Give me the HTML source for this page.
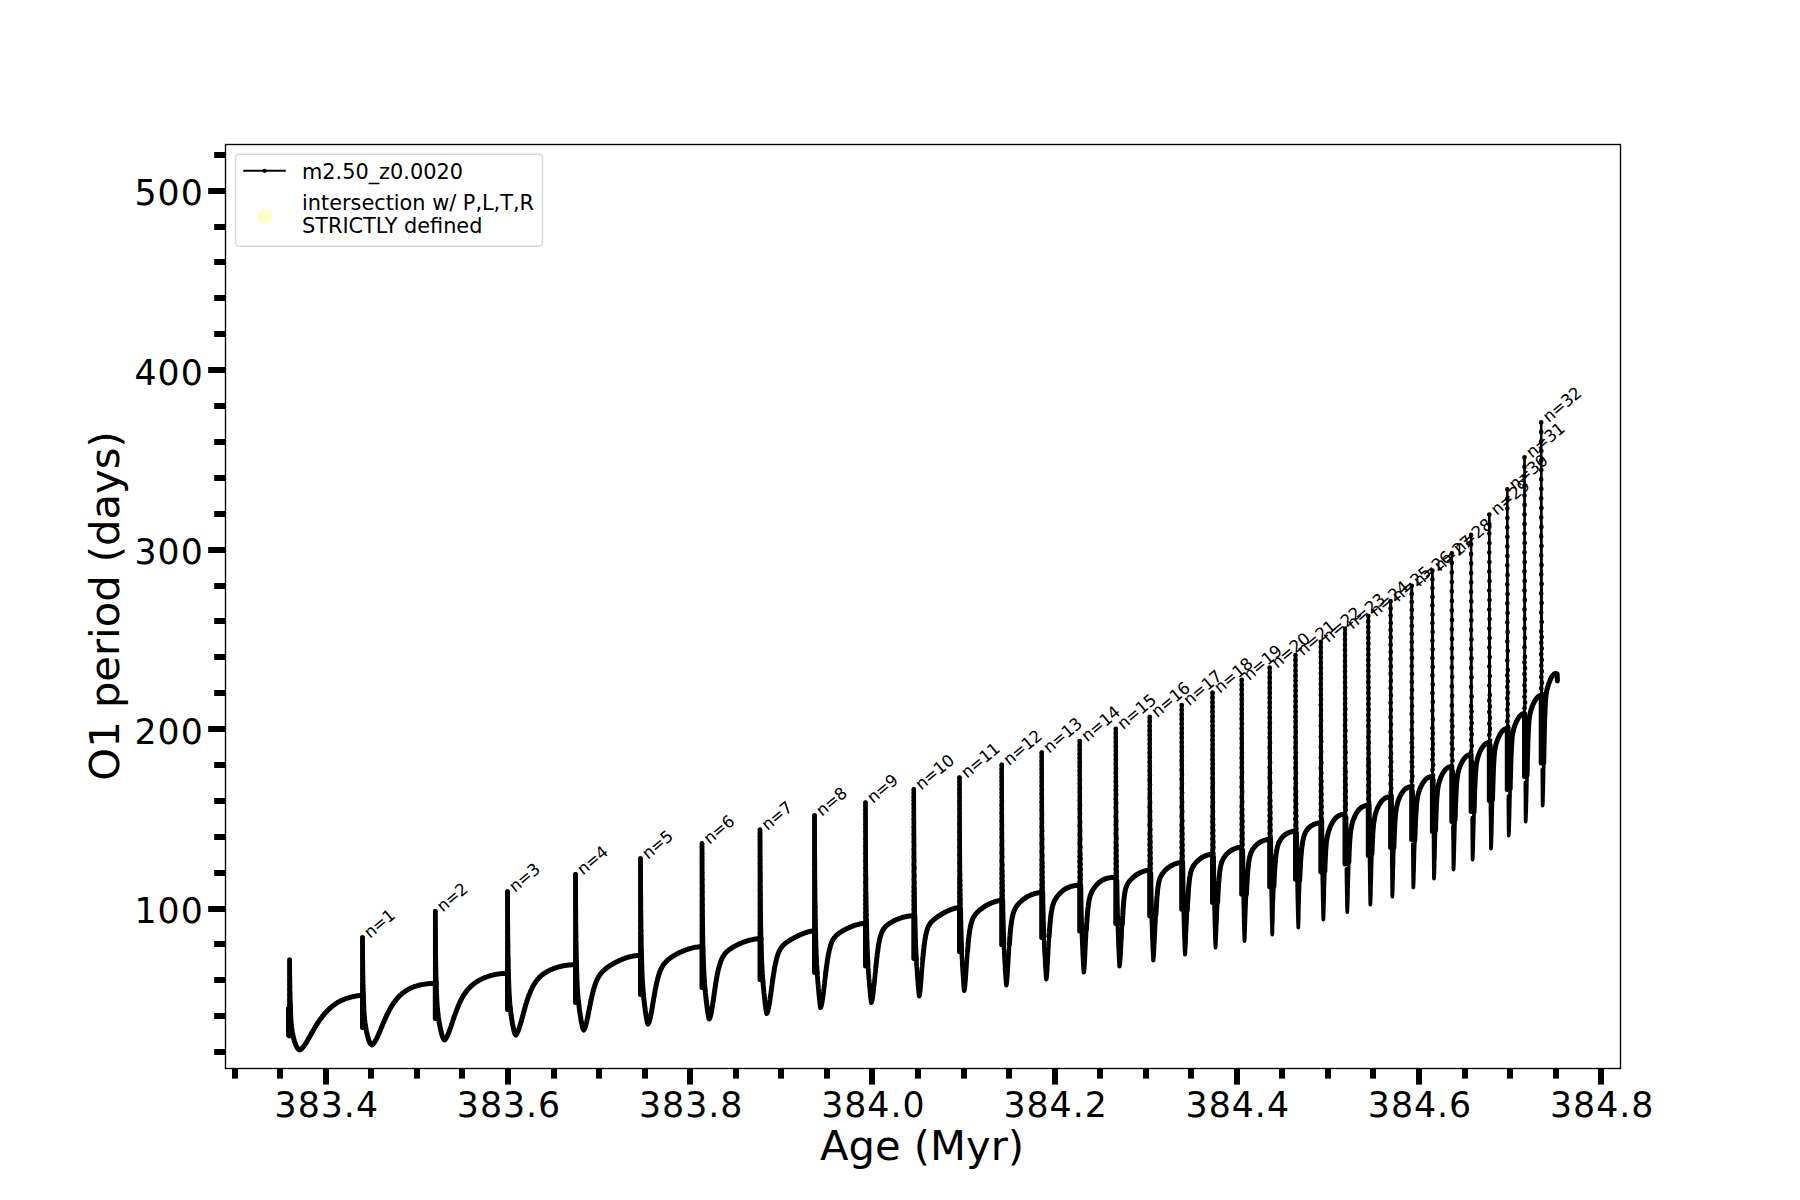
<!DOCTYPE html>
<html><head><meta charset="utf-8"><title>O1 period vs Age</title>
<style>
html,body{margin:0;padding:0;background:#fff}
body{width:1800px;height:1200px;overflow:hidden}
svg{display:block}
text{font-family:"DejaVu Sans","Liberation Sans",sans-serif;fill:#000}
.tk{font-size:34.72px;letter-spacing:1.0px}
.al{font-size:41.67px}
.lg{font-size:20.83px}
.nl{font-size:16.67px;letter-spacing:-0.35px}
</style></head><body>
<svg width="1800" height="1200" viewBox="0 0 1800 1200">
<rect width="1800" height="1200" fill="#fff"/>
<g fill="none" stroke="#000" stroke-linecap="round" stroke-linejoin="round">
<path stroke-width="5" d="M290.3 1005.5 290.4 1007.7 290.5 1009.7 290.5 1011.5 290.6 1013.2 290.7 1014.7 290.7 1016.1 290.8 1017.4 290.9 1018.6 290.9 1019.7 291 1020.7 291.1 1021.7 291.1 1022.5 291.2 1023.4 291.3 1024.1 291.3 1024.8 291.4 1025.5 291.5 1026.2 291.5 1026.8 291.6 1027.3 291.9 1029.5 292.2 1031.4 292.5 1033 292.8 1034.4 293 1035.7 293.3 1036.9 293.6 1038.1 293.9 1039.2 294.2 1040.2 294.5 1041.2 294.8 1042.1 295.1 1042.9 295.4 1043.7 295.7 1044.5 295.9 1045.2 296.2 1045.9 296.5 1046.5 296.8 1047 297.1 1047.6 297.4 1048 297.7 1048.4 298 1048.8 298.3 1049.1 298.6 1049.4 298.8 1049.6 299.1 1049.8 299.4 1049.9 299.7 1050 300 1050 300.2 1049.8 300.5 1049.6 300.8 1049.5 301 1049.2 301.2 1049 301.5 1048.8 301.8 1048.6 302 1048.3 302.2 1048 302.5 1047.8 302.8 1047.5 303 1047.2 303.2 1046.9 303.5 1046.6 303.8 1046.2 304 1045.9 304.2 1045.6 304.5 1045.2 304.8 1044.9 305 1044.5 305.2 1044.1 305.5 1043.7 305.8 1043.3 306 1043 306.2 1042.6 306.5 1042.1 306.8 1041.7 307 1041.3 307.2 1040.9 307.5 1040.5 307.8 1040.1 308 1039.6 308.2 1039.2 308.5 1038.8 308.8 1038.3 309 1037.9 309.2 1037.4 309.5 1037 309.8 1036.6 310 1036.1 310.2 1035.7 310.5 1035.2 310.8 1034.8 311 1034.3 311.2 1033.9 311.5 1033.5 311.8 1033 312 1032.6 312.2 1032.1 312.5 1031.7 313.1 1030.6 313.8 1029.5 314.4 1028.4 315 1027.3 315.7 1026.3 316.3 1025.3 316.9 1024.3 317.6 1023.3 318.2 1022.3 318.8 1021.4 319.5 1020.4 320.1 1019.5 320.7 1018.7 321.4 1017.8 322 1017 322.6 1016.1 323.3 1015.4 323.9 1014.6 324.5 1013.8 325.2 1013.1 325.8 1012.4 326.4 1011.7 327.1 1011.1 327.7 1010.4 328.3 1009.8 329 1009.2 329.6 1008.6 330.2 1008 330.9 1007.5 331.5 1006.9 332.1 1006.4 332.8 1005.9 333.4 1005.4 334 1005 334.7 1004.5 335.3 1004.1 335.9 1003.6 336.6 1003.2 337.2 1002.8 337.8 1002.5 338.4 1002.1 339.1 1001.7 339.7 1001.4 340.3 1001.1 341 1000.7 341.6 1000.4 342.2 1000.1 342.9 999.9 343.5 999.6 344.1 999.3 344.8 999.1 345.4 998.8 346 998.6 346.7 998.4 347.3 998.2 347.9 998 348.6 997.8 349.2 997.6 349.8 997.4 350.5 997.2 351.1 997.1 351.7 996.9 352.4 996.8 353 996.6 353.6 996.5 354.3 996.4 354.9 996.3 355.5 996.1 356.2 996 356.8 995.9 357.4 995.8 358.1 995.8 358.7 995.7 359.3 995.6 360 995.5 360.6 995.5 361.2 995.4 361.9 995.4 362.5 995.3M288.5 1008.4V1034.9M289.6 1020.7V1035.9M363.3 994.7 363.4 997.1 363.4 999.3 363.5 1001.3 363.6 1003.1 363.6 1004.8 363.7 1006.4 363.8 1007.8 363.8 1009.1 363.9 1010.4 364 1011.5 364 1012.6 364.1 1013.5 364.2 1014.5 364.2 1015.4 364.3 1016.2 364.4 1016.9 364.4 1017.7 364.5 1018.4 364.8 1020.8 365 1022.8 365.3 1024.7 365.5 1026.3 365.8 1027.8 366.1 1029.2 366.3 1030.5 366.6 1031.7 366.8 1032.9 367.1 1034 367.3 1035.1 367.6 1036.1 367.9 1037.1 368.1 1038 368.4 1038.8 368.6 1039.6 368.9 1040.4 369.2 1041.1 369.4 1041.7 369.7 1042.3 369.9 1042.8 370.2 1043.3 370.4 1043.7 370.7 1044.1 371 1044.4 371.2 1044.7 371.5 1044.8 371.7 1045 372 1045 372.3 1044.8 372.5 1044.6 372.8 1044.4 373 1044.1 373.3 1043.9 373.5 1043.6 373.8 1043.2 374 1042.9 374.3 1042.6 374.5 1042.2 374.8 1041.8 375 1041.4 375.3 1041 375.5 1040.6 375.8 1040.1 376.1 1039.6 376.3 1039.2 376.6 1038.7 376.8 1038.2 377.1 1037.6 377.3 1037.1 377.6 1036.6 377.8 1036 378.1 1035.5 378.3 1034.9 378.6 1034.3 378.8 1033.7 379.1 1033.1 379.3 1032.5 379.6 1032 379.8 1031.4 380.1 1030.7 380.4 1030.1 380.6 1029.5 380.9 1028.9 381.1 1028.3 381.4 1027.7 381.6 1027.1 381.9 1026.5 382.1 1025.9 382.4 1025.3 382.6 1024.7 382.9 1024 383.1 1023.4 383.4 1022.8 383.6 1022.3 383.9 1021.7 384.2 1021.1 384.4 1020.5 384.7 1019.9 385.3 1018.5 385.9 1017.1 386.6 1015.7 387.2 1014.3 387.9 1013 388.5 1011.8 389.1 1010.5 389.8 1009.4 390.4 1008.2 391.1 1007.1 391.7 1006 392.4 1005 393 1004 393.6 1003.1 394.3 1002.2 394.9 1001.3 395.6 1000.5 396.2 999.7 396.8 998.9 397.5 998.1 398.1 997.4 398.8 996.7 399.4 996.1 400 995.5 400.7 994.8 401.3 994.3 402 993.7 402.6 993.2 403.2 992.7 403.9 992.2 404.5 991.7 405.2 991.3 405.8 990.9 406.5 990.4 407.1 990.1 407.7 989.7 408.4 989.3 409 989 409.7 988.7 410.3 988.3 410.9 988 411.6 987.8 412.2 987.5 412.9 987.2 413.5 987 414.1 986.7 414.8 986.5 415.4 986.3 416.1 986.1 416.7 985.9 417.4 985.7 418 985.5 418.6 985.3 419.3 985.2 419.9 985 420.6 984.9 421.2 984.8 421.8 984.6 422.5 984.5 423.1 984.4 423.8 984.3 424.4 984.2 425 984.1 425.7 984 426.3 983.9 427 983.8 427.6 983.8 428.2 983.7 428.9 983.6 429.5 983.6 430.2 983.5 430.8 983.5 431.5 983.5 432.1 983.4 432.7 983.4 433.4 983.4 434 983.3 434.7 983.3 435.3 983.3M362.5 995.3V1027.6M436.2 982.2 436.2 984.8 436.3 987.2 436.4 989.4 436.4 991.4 436.5 993.2 436.6 994.9 436.6 996.5 436.7 997.9 436.8 999.3 436.8 1000.5 436.9 1001.7 437 1002.8 437 1003.8 437.1 1004.8 437.2 1005.7 437.2 1006.6 437.3 1007.4 437.6 1010.2 437.8 1012.6 438.1 1014.7 438.3 1016.6 438.6 1018.4 438.8 1020 439.1 1021.6 439.3 1023.1 439.6 1024.5 439.9 1025.8 440.1 1027.1 440.4 1028.3 440.6 1029.5 440.9 1030.6 441.1 1031.7 441.4 1032.7 441.6 1033.7 441.9 1034.6 442.1 1035.4 442.4 1036.2 442.7 1036.9 442.9 1037.5 443.2 1038.1 443.4 1038.6 443.7 1039.1 443.9 1039.4 444.2 1039.7 444.4 1039.9 444.7 1040 445 1039.7 445.2 1039.4 445.5 1039.1 445.7 1038.8 446 1038.4 446.2 1038 446.5 1037.5 446.7 1037.1 447 1036.6 447.2 1036.1 447.5 1035.6 447.7 1035 448 1034.4 448.2 1033.8 448.5 1033.2 448.7 1032.6 449 1032 449.2 1031.3 449.5 1030.6 449.7 1029.9 450 1029.2 450.2 1028.5 450.5 1027.8 450.7 1027.1 451 1026.3 451.2 1025.6 451.5 1024.8 451.7 1024.1 452 1023.3 452.2 1022.6 452.5 1021.8 452.7 1021.1 453 1020.3 453.2 1019.6 453.5 1018.8 453.7 1018.1 454 1017.4 454.2 1016.6 454.5 1015.9 454.7 1015.2 455 1014.5 455.3 1013.8 455.5 1013.1 455.8 1012.4 456 1011.7 456.3 1011 456.5 1010.3 456.8 1009.7 457 1009 457.3 1008.4 457.9 1006.8 458.5 1005.3 459.2 1003.8 459.8 1002.4 460.4 1001.1 461.1 999.8 461.7 998.6 462.3 997.5 463 996.4 463.6 995.3 464.3 994.3 464.9 993.4 465.5 992.5 466.2 991.6 466.8 990.8 467.4 990 468.1 989.2 468.7 988.5 469.3 987.9 470 987.2 470.6 986.6 471.3 986 471.9 985.4 472.5 984.9 473.2 984.4 473.8 983.9 474.4 983.4 475.1 982.9 475.7 982.5 476.3 982 477 981.6 477.6 981.2 478.2 980.9 478.9 980.5 479.5 980.1 480.2 979.8 480.8 979.5 481.4 979.2 482.1 978.8 482.7 978.5 483.3 978.3 484 978 484.6 977.7 485.2 977.5 485.9 977.2 486.5 977 487.1 976.8 487.8 976.5 488.4 976.3 489.1 976.1 489.7 975.9 490.3 975.7 491 975.5 491.6 975.4 492.2 975.2 492.9 975 493.5 974.9 494.1 974.8 494.8 974.6 495.4 974.5 496.1 974.4 496.7 974.2 497.3 974.1 498 974 498.6 973.9 499.2 973.9 499.9 973.8 500.5 973.7 501.1 973.6 501.8 973.6 502.4 973.5 503 973.5 503.7 973.4 504.3 973.4 505 973.4 505.6 973.3 506.2 973.3 506.9 973.3 507.5 973.3M435.3 983.3V1018.4M508.4 973.9 508.5 976.6 508.6 979.1 508.6 981.3 508.7 983.4 508.8 985.3 508.8 987.1 508.9 988.8 509 990.3 509 991.7 509.1 993.1 509.2 994.3 509.2 995.5 509.3 996.6 509.4 997.6 509.4 998.6 509.5 999.6 509.7 1002.4 509.9 1004.8 510.2 1007 510.4 1009 510.6 1010.9 510.8 1012.6 511 1014.3 511.2 1015.8 511.5 1017.3 511.7 1018.8 511.9 1020.2 512.1 1021.5 512.3 1022.8 512.5 1024 512.8 1025.2 513 1026.3 513.2 1027.3 513.4 1028.4 513.6 1029.3 513.8 1030.2 514.1 1031 514.3 1031.8 514.5 1032.5 514.7 1033.2 514.9 1033.7 515.1 1034.2 515.4 1034.6 515.6 1034.9 515.8 1035 516 1034.7 516.3 1034.4 516.5 1034.1 516.8 1033.7 517 1033.3 517.2 1032.9 517.5 1032.4 517.7 1031.9 517.9 1031.4 518.2 1030.8 518.4 1030.2 518.7 1029.5 518.9 1028.9 519.1 1028.2 519.4 1027.5 519.6 1026.7 519.9 1026 520.1 1025.2 520.3 1024.4 520.6 1023.6 520.8 1022.8 521.1 1021.9 521.3 1021.1 521.5 1020.2 521.8 1019.4 522 1018.5 522.2 1017.6 522.5 1016.7 522.7 1015.9 523 1015 523.2 1014.1 523.4 1013.2 523.7 1012.3 523.9 1011.5 524.2 1010.6 524.4 1009.7 524.6 1008.9 524.9 1008 525.1 1007.2 525.4 1006.4 525.6 1005.5 525.8 1004.7 526.1 1003.9 526.3 1003.2 526.5 1002.4 526.8 1001.6 527 1000.9 527.3 1000.1 527.5 999.4 527.7 998.7 528.3 997 528.9 995.3 529.6 993.7 530.2 992.2 530.8 990.8 531.4 989.5 532 988.2 532.6 987 533.2 985.9 533.8 984.8 534.4 983.8 535 982.9 535.6 982 536.2 981.2 536.8 980.4 537.4 979.6 538 978.9 538.6 978.3 539.2 977.6 539.8 977 540.4 976.5 541 975.9 541.6 975.4 542.2 974.9 542.9 974.4 543.5 974 544.1 973.5 544.7 973.1 545.3 972.7 545.9 972.4 546.5 972 547.1 971.6 547.7 971.3 548.3 971 548.9 970.7 549.5 970.4 550.1 970.1 550.7 969.8 551.3 969.5 551.9 969.3 552.5 969 553.1 968.8 553.7 968.5 554.3 968.3 554.9 968.1 555.5 967.9 556.2 967.7 556.8 967.5 557.4 967.3 558 967.1 558.6 967 559.2 966.8 559.8 966.6 560.4 966.5 561 966.3 561.6 966.2 562.2 966.1 562.8 965.9 563.4 965.8 564 965.7 564.6 965.6 565.2 965.5 565.8 965.4 566.4 965.3 567 965.2 567.6 965.2 568.2 965.1 568.8 965 569.5 965 570.1 964.9 570.7 964.9 571.3 964.8 571.9 964.8 572.5 964.8 573.1 964.7 573.7 964.7 574.3 964.7 574.9 964.7 575.5 964.7M507.5 973.3V1009.6M576.4 963.2 576.5 966 576.6 968.7 576.6 971.1 576.7 973.3 576.8 975.4 576.8 977.3 576.9 979 577 980.7 577 982.2 577.1 983.6 577.2 985 577.2 986.2 577.3 987.4 577.4 988.5 577.4 989.6 577.5 990.6 577.7 993.5 577.9 996 578.1 998.3 578.4 1000.5 578.6 1002.4 578.8 1004.3 579 1006 579.2 1007.7 579.4 1009.3 579.6 1010.9 579.9 1012.4 580.1 1013.9 580.3 1015.3 580.5 1016.6 580.7 1018 580.9 1019.2 581.1 1020.5 581.3 1021.6 581.6 1022.7 581.8 1023.8 582 1024.8 582.2 1025.7 582.4 1026.6 582.6 1027.4 582.8 1028.2 583.1 1028.8 583.3 1029.4 583.5 1029.8 583.7 1030 583.9 1029.7 584.2 1029.4 584.4 1029 584.6 1028.5 584.8 1028 585.1 1027.4 585.3 1026.8 585.5 1026.1 585.7 1025.3 586 1024.5 586.2 1023.6 586.4 1022.7 586.7 1021.8 586.9 1020.8 587.1 1019.8 587.3 1018.7 587.6 1017.6 587.8 1016.5 588 1015.4 588.2 1014.3 588.5 1013.1 588.7 1012 588.9 1010.8 589.2 1009.6 589.4 1008.5 589.6 1007.3 589.8 1006.2 590.1 1005 590.3 1003.9 590.5 1002.7 590.7 1001.6 591 1000.5 591.2 999.5 591.4 998.4 591.7 997.4 591.9 996.4 592.1 995.4 592.3 994.4 592.6 993.5 592.8 992.6 593 991.7 593.2 990.8 593.5 990 593.7 989.2 593.9 988.4 594.2 987.6 594.4 986.9 594.6 986.1 594.8 985.4 595.1 984.8 595.6 983.2 596.2 981.7 596.8 980.4 597.4 979.1 597.9 978 598.5 977 599.1 976 599.7 975.1 600.2 974.3 600.8 973.6 601.4 972.9 602 972.2 602.5 971.6 603.1 971 603.7 970.5 604.3 969.9 604.8 969.4 605.4 969 606 968.5 606.6 968 607.1 967.6 607.7 967.2 608.3 966.8 608.9 966.4 609.4 966 610 965.6 610.6 965.3 611.2 964.9 611.7 964.6 612.3 964.2 612.9 963.9 613.5 963.5 614 963.2 614.6 962.9 615.2 962.6 615.8 962.3 616.3 962 616.9 961.7 617.5 961.4 618.1 961.1 618.6 960.9 619.2 960.6 619.8 960.3 620.4 960.1 620.9 959.8 621.5 959.6 622.1 959.4 622.7 959.1 623.2 958.9 623.8 958.7 624.4 958.5 625 958.3 625.5 958.1 626.1 957.9 626.7 957.7 627.3 957.5 627.8 957.3 628.4 957.2 629 957 629.6 956.9 630.1 956.7 630.7 956.6 631.3 956.4 631.9 956.3 632.4 956.2 633 956.1 633.6 956 634.2 955.9 634.7 955.8 635.3 955.7 635.9 955.6 636.5 955.5 637 955.5 637.6 955.4 638.2 955.4 638.8 955.4 639.3 955.3 639.9 955.3 640.5 955.3M575.5 964.7V1002.6M641.4 953.4 641.5 956.4 641.6 959.3 641.6 961.9 641.7 964.3 641.8 966.5 641.8 968.5 641.9 970.4 642 972.2 642 973.8 642.1 975.4 642.2 976.8 642.2 978.2 642.3 979.5 642.4 980.7 642.4 981.8 642.5 982.9 642.7 985.8 642.9 988.3 643.1 990.6 643.3 992.8 643.4 994.8 643.6 996.7 643.8 998.5 644 1000.2 644.2 1001.9 644.4 1003.5 644.6 1005 644.8 1006.5 645 1008 645.2 1009.4 645.3 1010.8 645.5 1012.1 645.7 1013.4 645.9 1014.6 646.1 1015.8 646.3 1017 646.5 1018.1 646.7 1019.1 646.9 1020.1 647.1 1021 647.2 1021.8 647.4 1022.5 647.6 1023.2 647.8 1023.7 648 1024 648.2 1023.7 648.4 1023.4 648.6 1023 648.9 1022.5 649.1 1022 649.3 1021.3 649.5 1020.6 649.7 1019.9 649.9 1019 650.2 1018.1 650.4 1017.2 650.6 1016.2 650.8 1015.2 651 1014.1 651.2 1012.9 651.5 1011.8 651.7 1010.6 651.9 1009.3 652.1 1008.1 652.3 1006.8 652.5 1005.6 652.8 1004.3 653 1003 653.2 1001.7 653.4 1000.4 653.6 999.2 653.8 997.9 654 996.6 654.3 995.4 654.5 994.2 654.7 993 654.9 991.8 655.1 990.6 655.3 989.5 655.6 988.3 655.8 987.3 656 986.2 656.2 985.2 656.4 984.2 656.6 983.2 656.9 982.2 657.1 981.3 657.3 980.4 657.5 979.6 657.7 978.7 657.9 977.9 658.2 977.1 658.4 976.4 658.6 975.7 658.8 975 659.3 973.3 659.9 971.8 660.4 970.4 661 969.2 661.5 968 662.1 967 662.6 966.1 663.2 965.2 663.7 964.4 664.3 963.7 664.8 963 665.4 962.4 665.9 961.8 666.5 961.2 667 960.7 667.5 960.2 668.1 959.7 668.6 959.3 669.2 958.8 669.7 958.4 670.3 958 670.8 957.6 671.4 957.3 671.9 956.9 672.5 956.5 673 956.2 673.6 955.9 674.1 955.5 674.7 955.2 675.2 954.9 675.8 954.6 676.3 954.3 676.8 954 677.4 953.7 677.9 953.4 678.5 953.1 679 952.9 679.6 952.6 680.1 952.3 680.7 952.1 681.2 951.8 681.8 951.6 682.3 951.4 682.9 951.1 683.4 950.9 684 950.7 684.5 950.5 685 950.2 685.6 950 686.1 949.8 686.7 949.6 687.2 949.5 687.8 949.3 688.3 949.1 688.9 948.9 689.4 948.8 690 948.6 690.5 948.4 691.1 948.3 691.6 948.2 692.2 948 692.7 947.9 693.3 947.8 693.8 947.6 694.3 947.5 694.9 947.4 695.4 947.3 696 947.2 696.5 947.2 697.1 947.1 697.6 947 698.2 946.9 698.7 946.9 699.3 946.8 699.8 946.8 700.4 946.8 700.9 946.7 701.5 946.7 702 946.7M640.5 955.3V994.6M703 947.3 703.1 950.3 703.1 953 703.2 955.5 703.3 957.9 703.3 960.1 703.4 962.1 703.5 963.9 703.5 965.7 703.6 967.3 703.7 968.9 703.7 970.3 703.8 971.7 703.9 973 703.9 974.2 704 975.3 704.2 978.2 704.4 980.8 704.5 983.2 704.7 985.4 704.9 987.4 705.1 989.4 705.3 991.2 705.4 993 705.6 994.8 705.8 996.4 706 998.1 706.2 999.6 706.3 1001.2 706.5 1002.7 706.7 1004.1 706.9 1005.6 707 1006.9 707.2 1008.3 707.4 1009.6 707.6 1010.8 707.8 1012 707.9 1013.2 708.1 1014.3 708.3 1015.3 708.5 1016.3 708.7 1017.1 708.8 1017.9 709 1018.6 709.2 1019 709.4 1018.8 709.6 1018.4 709.8 1018 710 1017.5 710.2 1016.9 710.4 1016.3 710.6 1015.5 710.8 1014.7 711 1013.7 711.2 1012.8 711.4 1011.7 711.6 1010.6 711.8 1009.5 712 1008.3 712.2 1007 712.5 1005.7 712.7 1004.4 712.9 1003 713.1 1001.7 713.3 1000.3 713.5 998.9 713.7 997.4 713.9 996 714.1 994.6 714.3 993.2 714.5 991.8 714.7 990.4 714.9 989 715.1 987.6 715.3 986.3 715.5 985 715.7 983.7 715.9 982.4 716.1 981.2 716.3 980 716.5 978.8 716.7 977.7 716.9 976.6 717.1 975.5 717.3 974.4 717.5 973.4 717.7 972.4 717.9 971.5 718.1 970.6 718.3 969.7 718.5 968.8 718.8 968 719 967.2 719.2 966.5 719.4 965.7 719.9 964 720.4 962.4 720.9 961 721.4 959.8 721.9 958.6 722.4 957.6 723 956.6 723.5 955.8 724 955 724.5 954.3 725 953.6 725.5 953 726 952.5 726.6 951.9 727.1 951.5 727.6 951 728.1 950.6 728.6 950.1 729.1 949.7 729.6 949.4 730.2 949 730.7 948.6 731.2 948.3 731.7 948 732.2 947.6 732.7 947.3 733.2 947 733.8 946.7 734.3 946.4 734.8 946.2 735.3 945.9 735.8 945.6 736.3 945.3 736.9 945.1 737.4 944.8 737.9 944.6 738.4 944.3 738.9 944.1 739.4 943.9 739.9 943.6 740.5 943.4 741 943.2 741.5 943 742 942.8 742.5 942.5 743 942.3 743.5 942.1 744.1 942 744.6 941.8 745.1 941.6 745.6 941.4 746.1 941.2 746.6 941.1 747.1 940.9 747.7 940.8 748.2 940.6 748.7 940.5 749.2 940.3 749.7 940.2 750.2 940.1 750.7 939.9 751.3 939.8 751.8 939.7 752.3 939.6 752.8 939.5 753.3 939.4 753.8 939.3 754.3 939.2 754.9 939.1 755.4 939.1 755.9 939 756.4 938.9 756.9 938.9 757.4 938.8 757.9 938.8 758.5 938.8 759 938.7 759.5 938.7 760 938.7M702 946.7V987.6M761 938.7 761.1 941.8 761.1 944.7 761.2 947.4 761.3 949.9 761.3 952.1 761.4 954.3 761.5 956.3 761.5 958.1 761.6 959.8 761.7 961.5 761.7 963 761.8 964.4 761.9 965.8 761.9 967.1 762 968.4 762.2 971.2 762.3 973.7 762.5 976 762.6 978.2 762.8 980.3M772.6 980.4 772.8 979.1 773 977.8 773.2 976.5 773.4 975.2 773.6 974 773.8 972.8 774 971.6 774.2 970.4 774.3 969.3 774.5 968.3 774.7 967.2 774.9 966.2 775.1 965.2 775.3 964.3 775.5 963.4 775.7 962.5 775.9 961.6 776.1 960.8 776.3 960 776.7 958.2 777.2 956.5 777.7 955 778.2 953.6 778.7 952.4 779.2 951.3 779.6 950.3 780.1 949.4 780.6 948.6 781.1 947.9 781.6 947.2 782.1 946.6 782.6 946 783 945.5 783.5 945 784 944.6 784.5 944.1 785 943.7 785.5 943.3 785.9 942.9 786.4 942.6 786.9 942.2 787.4 941.9 787.9 941.6 788.4 941.2 788.8 940.9 789.3 940.6 789.8 940.3 790.3 940 790.8 939.7 791.3 939.4 791.7 939.1 792.2 938.9 792.7 938.6 793.2 938.3 793.7 938 794.2 937.8 794.7 937.5 795.1 937.3 795.6 937 796.1 936.8 796.6 936.5 797.1 936.3 797.6 936 798 935.8 798.5 935.6 799 935.4 799.5 935.1 800 934.9 800.5 934.7 800.9 934.5 801.4 934.3 801.9 934.1 802.4 933.9 802.9 933.7 803.4 933.5 803.9 933.3 804.3 933.2 804.8 933 805.3 932.8 805.8 932.6 806.3 932.5 806.8 932.3 807.2 932.2 807.7 932 808.2 931.9 808.7 931.8 809.2 931.7 809.7 931.5 810.1 931.4 810.6 931.3 811.1 931.2 811.6 931.1 812.1 931 812.6 931 813 930.9 813.5 930.9 814 930.8 814.5 930.8M760 938.7V979.6M815.5 930 815.6 933.3 815.6 936.4 815.7 939.3 815.8 941.9 815.8 944.3 815.9 946.6 816 948.7 816 950.7 816.1 952.6 816.2 954.3 816.2 956 816.3 957.6 816.4 959 816.4 960.5 816.5 961.8 816.6 964.4 816.8 966.9 816.9 969.1 817.1 971.2 817.2 973.3M825.7 973.1 825.9 971.6 826.1 970.2 826.3 968.7 826.4 967.4 826.6 966 826.8 964.7 827 963.4 827.2 962.1 827.3 960.9 827.5 959.7 827.7 958.6 827.9 957.5 828.1 956.5 828.2 955.4 828.4 954.5 828.6 953.5 828.8 952.6 829 951.7 829.1 950.9 829.3 950.1 829.5 949.3 830 947.6 830.4 946 830.9 944.5 831.3 943.3 831.8 942.1 832.2 941.1 832.7 940.2 833.1 939.4 833.6 938.7 834.1 938 834.5 937.4 835 936.9 835.4 936.4 835.9 935.9 836.3 935.4 836.8 935 837.2 934.6 837.7 934.3 838.2 933.9 838.6 933.5 839.1 933.2 839.5 932.9 840 932.6 840.4 932.3 840.9 932 841.3 931.7 841.8 931.4 842.3 931.1 842.7 930.9 843.2 930.6 843.6 930.3 844.1 930.1 844.5 929.8 845 929.6 845.4 929.4 845.9 929.1 846.4 928.9 846.8 928.7 847.3 928.4 847.7 928.2 848.2 928 848.6 927.8 849.1 927.6 849.6 927.4 850 927.2 850.5 927 850.9 926.8 851.4 926.6 851.8 926.4 852.3 926.3 852.7 926.1 853.2 925.9 853.7 925.8 854.1 925.6 854.6 925.4 855 925.3 855.5 925.1 855.9 925 856.4 924.9 856.8 924.7 857.3 924.6 857.8 924.5 858.2 924.4 858.7 924.3 859.1 924.2 859.6 924.1 860 924 860.5 923.9 860.9 923.8 861.4 923.7 861.9 923.6 862.3 923.6 862.8 923.5 863.2 923.5 863.7 923.4 864.1 923.4 864.6 923.3 865 923.3 865.5 923.3M814.5 930.8V972.6M866.5 922.3 866.6 925.8 866.6 929.1 866.7 932.1 866.8 934.8 866.8 937.4 866.9 939.8 867 942 867 944.1 867.1 946.1 867.2 948 867.2 949.7 867.3 951.4 867.4 952.9 867.4 954.4 867.5 955.9 867.6 958.5 867.8 961 867.9 963.3 868 965.5M875.9 966.8 876.1 965.2 876.2 963.5 876.4 961.9 876.6 960.3 876.7 958.8 876.9 957.3 877.1 955.8 877.2 954.4 877.4 953.1 877.6 951.8 877.8 950.5 877.9 949.3 878.1 948.1 878.3 947 878.4 945.9 878.6 944.9 878.8 943.9 878.9 942.9 879.1 942 879.3 941.2 879.5 940.3 879.6 939.6 879.8 938.8 880.2 937.1 880.7 935.5 881.1 934.2 881.5 933 882 932 882.4 931 882.8 930.2 883.2 929.5 883.7 928.8 884.1 928.2 884.5 927.7 885 927.2 885.4 926.7 885.8 926.3 886.3 925.9 886.7 925.5 887.1 925.2 887.5 924.8 888 924.5 888.4 924.2 888.8 923.9 889.3 923.6 889.7 923.3 890.1 923 890.6 922.8 891 922.5 891.4 922.2 891.9 922 892.3 921.7 892.7 921.5 893.1 921.3 893.6 921 894 920.8 894.4 920.6 894.9 920.4 895.3 920.2 895.7 920 896.2 919.8 896.6 919.6 897 919.4 897.4 919.2 897.9 919.1 898.3 918.9 898.7 918.7 899.2 918.5 899.6 918.4 900 918.2 900.5 918.1 900.9 917.9 901.3 917.8 901.7 917.7 902.2 917.5 902.6 917.4 903 917.3 903.5 917.2 903.9 917.1 904.3 917 904.8 916.9 905.2 916.8 905.6 916.7 906.1 916.6 906.5 916.5 906.9 916.4 907.3 916.3 907.8 916.3 908.2 916.2 908.6 916.1 909.1 916.1 909.5 916 909.9 916 910.4 916 910.8 915.9 911.2 915.9 911.6 915.9 912.1 915.8 912.5 915.8 912.9 915.8 913.4 915.8 913.8 915.8M865.5 923.3V965.9M914.8 914.2 914.9 917.9 914.9 921.3 915 924.5 915.1 927.4 915.1 930.1 915.2 932.7 915.3 935.1 915.3 937.3 915.4 939.4 915.5 941.4 915.5 943.2 915.6 945 915.7 946.7 915.7 948.3 915.8 949.9 915.9 952.4 916 954.8 916.2 957.1 916.3 959.2M922.7 959.4 922.9 957.5 923.1 955.7 923.2 954 923.4 952.4 923.6 950.8 923.7 949.3 923.9 947.8 924 946.5 924.2 945.1 924.4 943.9 924.5 942.7 924.7 941.6 924.8 940.5 925 939.4 925.2 938.5 925.3 937.5 925.5 936.7 925.6 935.8 925.8 935 926 934.3 926.1 933.6 926.3 932.9 926.5 932.3 926.6 931.6 926.8 931.1 926.9 930.5 927.1 930 927.3 929.5 927.7 928.3 928.1 927.3 928.5 926.4 928.9 925.6 929.3 924.9 929.7 924.2 930.1 923.6 930.5 923 930.9 922.5 931.3 922 931.7 921.6 932.2 921.2 932.6 920.8 933 920.4 933.4 920 933.8 919.7 934.2 919.3 934.6 919 935 918.7 935.4 918.3 935.8 918 936.2 917.7 936.6 917.4 937.1 917.2 937.5 916.9 937.9 916.6 938.3 916.3 938.7 916 939.1 915.8 939.5 915.5 939.9 915.3 940.3 915 940.7 914.8 941.1 914.5 941.5 914.3 942 914 942.4 913.8 942.8 913.5 943.2 913.3 943.6 913.1 944 912.9 944.4 912.6 944.8 912.4 945.2 912.2 945.6 912 946 911.8 946.4 911.6 946.8 911.4 947.3 911.2 947.7 911 948.1 910.8 948.5 910.6 948.9 910.5 949.3 910.3 949.7 910.1 950.1 909.9 950.5 909.8 950.9 909.6 951.3 909.5 951.7 909.3 952.2 909.2 952.6 909 953 908.9 953.4 908.7 953.8 908.6 954.2 908.5 954.6 908.4 955 908.3 955.4 908.2 955.8 908.1 956.2 908 956.6 907.9 957.1 907.8 957.5 907.7 957.9 907.7 958.3 907.6 958.7 907.6 959.1 907.5 959.5 907.5M913.8 915.8V958.4M960.5 908.7 960.6 912.6 960.6 916.3 960.7 919.7 960.8 922.8 960.8 925.8 960.9 928.6 961 931.2 961 933.6 961.1 935.9 961.2 938.1 961.2 940.1 961.3 942.1 961.4 944 961.4 945.8 961.5 947.5 961.6 949.8 961.7 952M967.5 951.5 967.7 949.6 967.8 947.7 968 946 968.1 944.3 968.2 942.7 968.4 941.1 968.6 939.7 968.7 938.3 968.9 936.9 969 935.7 969.2 934.5 969.3 933.3 969.5 932.3 969.6 931.3 969.8 930.3 969.9 929.4 970.1 928.5 970.2 927.7 970.4 926.9 970.5 926.2 970.7 925.5 970.8 924.9 971 924.2 971.1 923.7 971.2 923.1 971.4 922.6 971.6 922.1 971.7 921.6 972.1 920.5 972.5 919.5 972.8 918.6 973.2 917.8 973.6 917.1 974 916.4 974.4 915.8 974.7 915.3 975.1 914.7 975.5 914.2 975.9 913.8 976.3 913.3 976.6 912.9 977 912.5 977.4 912.2 977.8 911.8 978.2 911.4 978.5 911.1 978.9 910.8 979.3 910.4 979.7 910.1 980.1 909.8 980.4 909.5 980.8 909.2 981.2 908.9 981.6 908.6 982 908.4 982.3 908.1 982.7 907.8 983.1 907.6 983.5 907.3 983.9 907 984.2 906.8 984.6 906.6 985 906.3 985.4 906.1 985.8 905.9 986.1 905.6 986.5 905.4 986.9 905.2 987.3 905 987.6 904.8 988 904.6 988.4 904.4 988.8 904.2 989.2 904 989.5 903.8 989.9 903.7 990.3 903.5 990.7 903.3 991.1 903.1 991.4 903 991.8 902.8 992.2 902.7 992.6 902.5 993 902.4 993.3 902.2 993.7 902.1 994.1 902 994.5 901.8 994.9 901.7 995.2 901.6 995.6 901.5 996 901.4 996.4 901.3 996.8 901.2 997.1 901.1 997.5 901 997.9 900.9 998.3 900.8 998.7 900.8 999 900.7 999.4 900.6 999.8 900.6 1000.2 900.5 1000.6 900.5 1000.9 900.4 1001.3 900.4 1001.7 900.4M959.5 907.5V951.8M1002.7 900.8 1002.8 904.9 1002.8 908.7 1002.9 912.3 1003 915.6 1003 918.7 1003.1 921.5 1003.2 924.2 1003.2 926.8 1003.3 929.2 1003.4 931.5 1003.4 933.6 1003.5 935.7 1003.6 937.6 1003.6 939.5 1003.7 941.3 1003.8 943.6M1009.3 945.2 1009.4 943.2 1009.6 941.2 1009.7 939.3 1009.8 937.4 1010 935.7 1010.1 934 1010.3 932.4 1010.4 930.9 1010.5 929.5 1010.7 928.2 1010.8 926.9 1011 925.7 1011.1 924.6 1011.3 923.5 1011.4 922.5 1011.5 921.5 1011.7 920.6 1011.8 919.8 1012 919 1012.1 918.2 1012.2 917.5 1012.4 916.8 1012.5 916.2 1012.7 915.6 1012.8 915 1013 914.5 1013.1 913.9 1013.2 913.5 1013.4 913 1013.7 911.9 1014.1 910.9 1014.5 910.1 1014.8 909.3 1015.2 908.6 1015.5 907.9 1015.9 907.3 1016.2 906.8 1016.6 906.2 1017 905.7 1017.3 905.3 1017.7 904.8 1018 904.4 1018.4 904 1018.8 903.6 1019.1 903.2 1019.5 902.8 1019.8 902.4 1020.2 902.1 1020.5 901.8 1020.9 901.4 1021.3 901.1 1021.6 900.8 1022 900.5 1022.3 900.2 1022.7 899.9 1023.1 899.6 1023.4 899.3 1023.8 899.1 1024.1 898.8 1024.5 898.5 1024.9 898.3 1025.2 898.1 1025.6 897.8 1025.9 897.6 1026.3 897.4 1026.6 897.1 1027 896.9 1027.4 896.7 1027.7 896.5 1028.1 896.3 1028.4 896.1 1028.8 896 1029.2 895.8 1029.5 895.6 1029.9 895.4 1030.2 895.3 1030.6 895.1 1030.9 895 1031.3 894.8 1031.7 894.7 1032 894.5 1032.4 894.4 1032.7 894.3 1033.1 894.1 1033.5 894 1033.8 893.9 1034.2 893.8 1034.5 893.7 1034.9 893.6 1035.2 893.5 1035.6 893.4 1036 893.3 1036.3 893.2 1036.7 893.1 1037 893.1 1037.4 893 1037.8 892.9 1038.1 892.9 1038.5 892.8 1038.8 892.8 1039.2 892.7 1039.5 892.7 1039.9 892.6 1040.3 892.6 1040.6 892.6 1041 892.5 1041.3 892.5 1041.7 892.5M1001.7 900.4V944.8M1042.7 892.4 1042.8 896.7 1042.8 900.6 1042.9 904.2 1043 907.6 1043 910.8 1043.1 913.8 1043.2 916.6 1043.2 919.2 1043.3 921.6 1043.4 924 1043.4 926.2 1043.5 928.3 1043.6 930.3 1043.6 932.3 1043.7 934.1 1043.8 936.5M1049.1 936.9 1049.2 934.8 1049.4 932.7 1049.5 930.7 1049.6 928.9 1049.8 927.1 1049.9 925.4 1050 923.8 1050.2 922.3 1050.3 920.8 1050.4 919.5 1050.6 918.2 1050.7 917 1050.8 915.9 1051 914.8 1051.1 913.9 1051.2 912.9 1051.4 912 1051.5 911.2 1051.6 910.4 1051.8 909.7 1051.9 909 1052 908.4 1052.2 907.8 1052.3 907.2 1052.4 906.6 1052.6 906.1 1052.7 905.6 1052.8 905.2 1053 904.7 1053.3 903.7 1053.7 902.8 1054 901.9 1054.3 901.2 1054.7 900.5 1055 899.8 1055.3 899.2 1055.7 898.7 1056 898.1 1056.4 897.6 1056.7 897.1 1057 896.7 1057.4 896.2 1057.7 895.8 1058.1 895.4 1058.4 895 1058.7 894.6 1059.1 894.2 1059.4 893.9 1059.7 893.5 1060.1 893.2 1060.4 892.9 1060.8 892.5 1061.1 892.2 1061.4 891.9 1061.8 891.6 1062.1 891.3 1062.5 891.1 1062.8 890.8 1063.1 890.5 1063.5 890.3 1063.8 890 1064.1 889.8 1064.5 889.6 1064.8 889.4 1065.2 889.1 1065.5 888.9 1065.8 888.7 1066.2 888.5 1066.5 888.4 1066.8 888.2 1067.2 888 1067.5 887.8 1067.9 887.7 1068.2 887.5 1068.5 887.4 1068.9 887.2 1069.2 887.1 1069.6 887 1069.9 886.9 1070.2 886.7 1070.6 886.6 1070.9 886.5 1071.2 886.4 1071.6 886.3 1071.9 886.2 1072.3 886.1 1072.6 886 1072.9 886 1073.3 885.9 1073.6 885.8 1074 885.8 1074.3 885.7 1074.6 885.6 1075 885.6 1075.3 885.5 1075.6 885.5 1076 885.4 1076.3 885.4 1076.7 885.4 1077 885.3 1077.3 885.3 1077.7 885.3 1078 885.3 1078.3 885.2 1078.7 885.2 1079 885.2 1079.4 885.2 1079.7 885.2M1041.7 892.5V937.6M1080.7 886.2 1080.8 890.7 1080.8 894.8 1080.9 898.7 1081 902.3 1081 905.7 1081.1 908.9 1081.2 911.9 1081.2 914.7 1081.3 917.3 1081.4 919.9 1081.4 922.3 1081.5 924.6 1081.6 926.8 1081.6 928.9 1081.7 930.9M1086.4 930.2 1086.5 927.9 1086.6 925.6 1086.7 923.5 1086.9 921.5 1087 919.6 1087.1 917.8 1087.3 916.1 1087.4 914.5 1087.5 912.9 1087.6 911.5 1087.8 910.2 1087.9 908.9 1088 907.7 1088.2 906.6 1088.3 905.6 1088.4 904.6 1088.5 903.7 1088.7 902.9 1088.8 902.1 1088.9 901.3 1089 900.6 1089.2 900 1089.3 899.3 1089.4 898.8 1089.6 898.2 1089.7 897.7 1089.8 897.2 1089.9 896.7 1090.1 896.3 1090.2 895.9 1090.5 894.9 1090.8 894 1091.2 893.2 1091.5 892.5 1091.8 891.8 1092.1 891.2 1092.5 890.6 1092.8 890.1 1093.1 889.5 1093.4 889 1093.8 888.5 1094.1 888.1 1094.4 887.6 1094.7 887.2 1095.1 886.7 1095.4 886.3 1095.7 885.9 1096 885.6 1096.4 885.2 1096.7 884.8 1097 884.5 1097.3 884.1 1097.7 883.8 1098 883.5 1098.3 883.2 1098.6 882.9 1098.9 882.6 1099.3 882.3 1099.6 882.1 1099.9 881.8 1100.2 881.6 1100.6 881.3 1100.9 881.1 1101.2 880.9 1101.5 880.7 1101.9 880.5 1102.2 880.3 1102.5 880.1 1102.8 879.9 1103.2 879.8 1103.5 879.6 1103.8 879.4 1104.1 879.3 1104.5 879.2 1104.8 879 1105.1 878.9 1105.4 878.8 1105.8 878.7 1106.1 878.6 1106.4 878.5 1106.7 878.4 1107.1 878.3 1107.4 878.2 1107.7 878.1 1108 878.1 1108.3 878 1108.7 877.9 1109 877.9 1109.3 877.8 1109.6 877.8 1110 877.7 1110.3 877.7 1110.6 877.7 1110.9 877.6 1111.3 877.6 1111.6 877.6 1111.9 877.6 1112.2 877.6 1112.6 877.5 1112.9 877.5 1113.2 877.5 1113.5 877.5 1113.9 877.5 1114.2 877.5 1114.5 877.5 1114.8 877.5 1115.2 877.5 1115.5 877.5 1115.8 877.5M1079.7 885.2V930.9M1116.8 880.5 1116.9 885.3 1116.9 889.7 1117 893.8 1117.1 897.7 1117.1 901.3 1117.2 904.7 1117.3 907.9 1117.3 910.9 1117.4 913.8 1117.5 916.5 1117.5 919.1 1117.6 921.6 1117.7 924M1122.3 924 1122.4 921.8 1122.5 919.6 1122.6 917.5 1122.8 915.4 1122.9 913.5 1123 911.6 1123.1 909.8 1123.2 908.1 1123.4 906.4 1123.5 904.9 1123.6 903.4 1123.7 902 1123.8 900.7 1124 899.5 1124.1 898.4 1124.2 897.3 1124.3 896.3 1124.5 895.3 1124.6 894.4 1124.7 893.6 1124.8 892.8 1124.9 892.1 1125.1 891.5 1125.2 890.8 1125.3 890.3 1125.4 889.7 1125.5 889.2 1125.8 888.1 1126.2 887.1 1126.5 886.2 1126.8 885.5 1127.1 884.9 1127.4 884.3 1127.7 883.8 1128 883.3 1128.3 882.8 1128.6 882.4 1128.9 882 1129.2 881.6 1129.5 881.2 1129.8 880.8 1130.1 880.5 1130.4 880.1 1130.7 879.8 1131 879.5 1131.4 879.1 1131.7 878.8 1132 878.5 1132.3 878.2 1132.6 877.9 1132.9 877.6 1133.2 877.4 1133.5 877.1 1133.8 876.8 1134.1 876.6 1134.4 876.3 1134.7 876.1 1135 875.8 1135.3 875.6 1135.6 875.4 1135.9 875.2 1136.2 874.9 1136.5 874.7 1136.9 874.5 1137.2 874.3 1137.5 874.1 1137.8 873.9 1138.1 873.8 1138.4 873.6 1138.7 873.4 1139 873.3 1139.3 873.1 1139.6 872.9 1139.9 872.8 1140.2 872.6 1140.5 872.5 1140.8 872.4 1141.1 872.2 1141.4 872.1 1141.7 872 1142.1 871.9 1142.4 871.7 1142.7 871.6 1143 871.5 1143.3 871.4 1143.6 871.3 1143.9 871.2 1144.2 871.1 1144.5 871.1 1144.8 871 1145.1 870.9 1145.4 870.8 1145.7 870.8 1146 870.7 1146.3 870.6 1146.6 870.6 1146.9 870.5 1147.3 870.5 1147.6 870.4 1147.9 870.4 1148.2 870.3 1148.5 870.3 1148.8 870.3 1149.1 870.3 1149.4 870.2 1149.7 870.2M1115.8 877.5V923.4M1150.7 873.1 1150.8 878 1150.8 882.6 1150.9 886.9 1151 890.9 1151 894.7 1151.1 898.2 1151.2 901.5 1151.2 904.7 1151.3 907.7 1151.4 910.5 1151.4 913.2 1151.5 915.8M1155.9 915 1156 912.8 1156.1 910.7 1156.3 908.7 1156.4 906.7 1156.5 904.9 1156.6 903.1 1156.7 901.3 1156.8 899.7 1156.9 898.2 1157 896.7 1157.2 895.3 1157.3 894 1157.4 892.7 1157.5 891.5 1157.6 890.4 1157.7 889.4 1157.8 888.4 1158 887.5 1158.1 886.7 1158.2 885.9 1158.3 885.1 1158.4 884.4 1158.5 883.7 1158.6 883.1 1158.8 882.6 1158.9 882 1159 881.5 1159.3 880.4 1159.6 879.4 1159.8 878.5 1160.1 877.8 1160.4 877.1 1160.7 876.5 1161 876 1161.3 875.4 1161.6 875 1161.9 874.5 1162.1 874.1 1162.4 873.7 1162.7 873.3 1163 872.9 1163.3 872.6 1163.6 872.2 1163.9 871.9 1164.2 871.5 1164.4 871.2 1164.7 870.9 1165 870.6 1165.3 870.3 1165.6 870 1165.9 869.7 1166.2 869.5 1166.5 869.2 1166.7 868.9 1167 868.7 1167.3 868.4 1167.6 868.2 1167.9 868 1168.2 867.7 1168.5 867.5 1168.8 867.3 1169 867.1 1169.3 866.9 1169.6 866.7 1169.9 866.5 1170.2 866.3 1170.5 866.1 1170.8 866 1171.1 865.8 1171.3 865.6 1171.6 865.5 1171.9 865.3 1172.2 865.2 1172.5 865 1172.8 864.9 1173.1 864.7 1173.4 864.6 1173.6 864.5 1173.9 864.4 1174.2 864.2 1174.5 864.1 1174.8 864 1175.1 863.9 1175.4 863.8 1175.7 863.7 1175.9 863.6 1176.2 863.5 1176.5 863.4 1176.8 863.4 1177.1 863.3 1177.4 863.2 1177.7 863.1 1178 863.1 1178.2 863 1178.5 862.9 1178.8 862.9 1179.1 862.8 1179.4 862.8 1179.7 862.7 1180 862.7 1180.3 862.7 1180.5 862.6 1180.8 862.6 1181.1 862.6 1181.4 862.5 1181.7 862.5M1149.7 870.2V915.9M1182.6 862.2 1182.7 867.8 1182.8 872.9 1182.8 877.8 1182.9 882.3 1183 886.6 1183 890.6 1183.1 894.3 1183.2 897.9 1183.2 901.2 1183.3 904.4 1183.4 907.5M1187.3 909.9 1187.4 907.7 1187.5 905.5 1187.6 903.4 1187.8 901.4 1187.9 899.5 1188 897.6 1188.1 895.8 1188.2 894.1 1188.3 892.5 1188.4 890.9 1188.5 889.4 1188.6 888 1188.7 886.7 1188.8 885.4 1189 884.2 1189.1 883.1 1189.2 882.1 1189.3 881.1 1189.4 880.1 1189.5 879.2 1189.6 878.4 1189.7 877.6 1189.8 876.9 1190 876.2 1190.1 875.6 1190.2 874.9 1190.3 874.4 1190.4 873.8 1190.5 873.3 1190.8 872.2 1191.1 871.2 1191.3 870.3 1191.6 869.5 1191.9 868.8 1192.2 868.2 1192.4 867.6 1192.7 867.1 1193 866.6 1193.3 866.1 1193.6 865.7 1193.8 865.2 1194.1 864.8 1194.4 864.4 1194.7 864.1 1195 863.7 1195.2 863.4 1195.5 863 1195.8 862.7 1196.1 862.4 1196.3 862.1 1196.6 861.8 1196.9 861.5 1197.2 861.2 1197.5 861 1197.7 860.7 1198 860.5 1198.3 860.2 1198.6 860 1198.9 859.7 1199.1 859.5 1199.4 859.3 1199.7 859.1 1200 858.9 1200.2 858.7 1200.5 858.5 1200.8 858.3 1201.1 858.1 1201.4 857.9 1201.6 857.7 1201.9 857.6 1202.2 857.4 1202.5 857.3 1202.8 857.1 1203 856.9 1203.3 856.8 1203.6 856.7 1203.9 856.5 1204.1 856.4 1204.4 856.3 1204.7 856.1 1205 856 1205.3 855.9 1205.5 855.8 1205.8 855.7 1206.1 855.6 1206.4 855.5 1206.7 855.4 1206.9 855.3 1207.2 855.2 1207.5 855.1 1207.8 855.1 1208 855 1208.3 854.9 1208.6 854.8 1208.9 854.8 1209.2 854.7 1209.4 854.7 1209.7 854.6 1210 854.6 1210.3 854.5 1210.6 854.5 1210.8 854.4 1211.1 854.4 1211.4 854.3 1211.7 854.3 1211.9 854.3 1212.2 854.2 1212.5 854.2M1181.7 862.5V909.3M1213.4 856.3 1213.5 862.2 1213.6 867.7 1213.6 872.8 1213.7 877.6 1213.8 882.1 1213.8 886.4 1213.9 890.4 1214 894.2 1214 897.8 1214.1 901.2M1217.6 902.3 1217.7 900.1 1217.8 898 1217.9 896 1218 894.1 1218.1 892.2 1218.2 890.4 1218.3 888.6 1218.4 887 1218.5 885.4 1218.6 883.9 1218.7 882.4 1218.9 881 1219 879.7 1219.1 878.5 1219.2 877.3 1219.3 876.2 1219.4 875.2 1219.5 874.2 1219.6 873.2 1219.7 872.3 1219.8 871.5 1219.9 870.7 1220 870 1220.1 869.3 1220.2 868.6 1220.3 868 1220.4 867.4 1220.5 866.9 1220.6 866.3 1220.7 865.8 1221 864.7 1221.3 863.7 1221.5 862.8 1221.8 862 1222.1 861.3 1222.3 860.7 1222.6 860.1 1222.9 859.5 1223.1 859 1223.4 858.5 1223.7 858.1 1223.9 857.7 1224.2 857.2 1224.5 856.9 1224.7 856.5 1225 856.1 1225.3 855.8 1225.5 855.5 1225.8 855.1 1226 854.8 1226.3 854.5 1226.6 854.2 1226.8 854 1227.1 853.7 1227.4 853.4 1227.6 853.2 1227.9 852.9 1228.2 852.7 1228.4 852.5 1228.7 852.3 1229 852 1229.2 851.8 1229.5 851.6 1229.8 851.4 1230 851.2 1230.3 851.1 1230.6 850.9 1230.8 850.7 1231.1 850.5 1231.4 850.4 1231.6 850.2 1231.9 850.1 1232.1 849.9 1232.4 849.8 1232.7 849.6 1232.9 849.5 1233.2 849.4 1233.5 849.2 1233.7 849.1 1234 849 1234.3 848.9 1234.5 848.8 1234.8 848.7 1235.1 848.6 1235.3 848.5 1235.6 848.4 1235.9 848.3 1236.1 848.2 1236.4 848.1 1236.7 848 1236.9 847.9 1237.2 847.9 1237.5 847.8 1237.7 847.7 1238 847.6 1238.3 847.6 1238.5 847.5 1238.8 847.5 1239 847.4 1239.3 847.4 1239.6 847.3 1239.8 847.3 1240.1 847.2 1240.4 847.2 1240.6 847.1 1240.9 847.1 1241.2 847.1 1241.4 847 1241.7 847M1212.5 854.2V902.6M1242.6 850.1 1242.7 856.3 1242.8 862.1 1242.8 867.5 1242.9 872.6 1243 877.4 1243 881.9 1243.1 886.1 1243.2 890.1 1243.2 893.9M1246.4 894.6 1246.5 892.4 1246.6 890.4 1246.7 888.4 1246.8 886.4 1246.9 884.6 1247 882.8 1247.1 881.1 1247.2 879.5 1247.3 877.9 1247.4 876.4 1247.5 875 1247.6 873.7 1247.7 872.4 1247.8 871.2 1247.9 870 1248 868.9 1248.1 867.9 1248.2 866.9 1248.3 866 1248.4 865.1 1248.5 864.2 1248.6 863.5 1248.7 862.7 1248.8 862 1248.9 861.3 1249 860.7 1249.1 860.1 1249.2 859.5 1249.3 859 1249.4 858.4 1249.5 857.9 1249.8 856.8 1250.1 855.8 1250.3 854.9 1250.6 854.1 1250.8 853.4 1251.1 852.7 1251.3 852.1 1251.6 851.5 1251.8 851 1252.1 850.5 1252.3 850 1252.6 849.6 1252.9 849.2 1253.1 848.8 1253.4 848.4 1253.6 848 1253.9 847.7 1254.1 847.4 1254.4 847 1254.6 846.7 1254.9 846.4 1255.2 846.2 1255.4 845.9 1255.7 845.6 1255.9 845.4 1256.2 845.1 1256.4 844.9 1256.7 844.7 1256.9 844.4 1257.2 844.2 1257.5 844 1257.7 843.8 1258 843.6 1258.2 843.4 1258.5 843.3 1258.7 843.1 1259 842.9 1259.2 842.7 1259.5 842.6 1259.7 842.4 1260 842.3 1260.3 842.1 1260.5 842 1260.8 841.9 1261 841.7 1261.3 841.6 1261.5 841.5 1261.8 841.4 1262 841.2 1262.3 841.1 1262.6 841 1262.8 840.9 1263.1 840.8 1263.3 840.7 1263.6 840.6 1263.8 840.5 1264.1 840.4 1264.3 840.4 1264.6 840.3 1264.9 840.2 1265.1 840.1 1265.4 840.1 1265.6 840 1265.9 839.9 1266.1 839.8 1266.4 839.8 1266.6 839.7 1266.9 839.7 1267.1 839.6 1267.4 839.6 1267.7 839.5 1267.9 839.5 1268.2 839.4 1268.4 839.4 1268.7 839.3 1268.9 839.3 1269.2 839.3 1269.4 839.2 1269.7 839.2M1241.7 847V894.3M1270.6 839.4 1270.6 846.5 1270.7 853.1 1270.8 859.3 1270.8 865.1 1270.9 870.6 1271 875.7 1271 880.6 1271.1 885.1M1273.9 886.4 1274 884.3 1274.1 882.2 1274.2 880.2 1274.3 878.3 1274.3 876.4 1274.4 874.7 1274.5 873 1274.6 871.4 1274.7 869.9 1274.8 868.5 1274.9 867.1 1275 865.8 1275.1 864.5 1275.2 863.3 1275.3 862.2 1275.4 861.1 1275.5 860.1 1275.6 859.1 1275.6 858.2 1275.7 857.3 1275.8 856.5 1275.9 855.7 1276 854.9 1276.1 854.2 1276.2 853.5 1276.3 852.9 1276.4 852.2 1276.5 851.7 1276.6 851.1 1276.7 850.6 1276.8 850 1276.9 849.6 1277.1 848.4 1277.3 847.4 1277.6 846.5 1277.8 845.6 1278 844.9 1278.3 844.2 1278.5 843.5 1278.7 842.9 1279 842.4 1279.2 841.9 1279.5 841.4 1279.7 840.9 1279.9 840.5 1280.2 840.1 1280.4 839.7 1280.6 839.4 1280.9 839 1281.1 838.7 1281.3 838.4 1281.6 838.1 1281.8 837.8 1282.1 837.5 1282.3 837.2 1282.5 837 1282.8 836.7 1283 836.5 1283.2 836.3 1283.5 836 1283.7 835.8 1283.9 835.6 1284.2 835.4 1284.4 835.2 1284.6 835 1284.9 834.9 1285.1 834.7 1285.4 834.5 1285.6 834.4 1285.8 834.2 1286.1 834.1 1286.3 833.9 1286.5 833.8 1286.8 833.6 1287 833.5 1287.2 833.4 1287.5 833.2 1287.7 833.1 1287.9 833 1288.2 832.9 1288.4 832.8 1288.7 832.7 1288.9 832.6 1289.1 832.5 1289.4 832.4 1289.6 832.3 1289.8 832.2 1290.1 832.1 1290.3 832 1290.5 831.9 1290.8 831.9 1291 831.8 1291.3 831.7 1291.5 831.7 1291.7 831.6 1292 831.5 1292.2 831.5 1292.4 831.4 1292.7 831.3 1292.9 831.3 1293.1 831.2 1293.4 831.2 1293.6 831.1 1293.8 831.1 1294.1 831 1294.3 831 1294.6 831 1294.8 830.9 1295 830.9 1295.3 830.8 1295.5 830.8M1269.7 839.2V886.8M1296.4 832.7 1296.5 839.2 1296.6 845.2 1296.6 850.9 1296.7 856.2 1296.8 861.2 1296.8 865.9 1296.9 870.3 1297 874.5 1297 878.5M1299.7 880.3 1299.8 877.9 1299.9 875.7 1300 873.6 1300.1 871.6 1300.2 869.7 1300.3 867.9 1300.4 866.2 1300.5 864.6 1300.5 863 1300.6 861.5 1300.7 860.1 1300.8 858.8 1300.9 857.5 1301 856.3 1301.1 855.2 1301.2 854.1 1301.3 853.1 1301.4 852.1 1301.5 851.1 1301.5 850.2 1301.6 849.4 1301.7 848.5 1301.8 847.8 1301.9 847 1302 846.3 1302.1 845.6 1302.2 845 1302.3 844.4 1302.3 843.8 1302.4 843.2 1302.5 842.6 1302.6 842.1 1302.7 841.6 1302.8 841.1 1303 840 1303.3 839 1303.5 838 1303.7 837.2 1303.9 836.4 1304.2 835.7 1304.4 835 1304.6 834.4 1304.9 833.8 1305.1 833.3 1305.3 832.8 1305.5 832.3 1305.8 831.9 1306 831.5 1306.2 831.1 1306.4 830.7 1306.7 830.4 1306.9 830.1 1307.1 829.8 1307.4 829.5 1307.6 829.2 1307.8 828.9 1308 828.6 1308.3 828.4 1308.5 828.1 1308.7 827.9 1309 827.7 1309.2 827.5 1309.4 827.3 1309.6 827.1 1309.9 826.9 1310.1 826.7 1310.3 826.5 1310.5 826.4 1310.8 826.2 1311 826 1311.2 825.9 1311.5 825.7 1311.7 825.6 1311.9 825.5 1312.1 825.3 1312.4 825.2 1312.6 825.1 1312.8 824.9 1313.1 824.8 1313.3 824.7 1313.5 824.6 1313.7 824.5 1314 824.4 1314.2 824.3 1314.4 824.2 1314.6 824.1 1314.9 824 1315.1 823.9 1315.3 823.9 1315.6 823.8 1315.8 823.7 1316 823.6 1316.2 823.6 1316.5 823.5 1316.7 823.4 1316.9 823.3 1317.2 823.3 1317.4 823.2 1317.6 823.2 1317.8 823.1 1318.1 823 1318.3 823 1318.5 822.9 1318.7 822.9 1319 822.8 1319.2 822.8 1319.4 822.7 1319.7 822.7 1319.9 822.7 1320.1 822.6 1320.3 822.6 1320.6 822.5 1320.8 822.5M1295.5 830.8V879.3M1321.7 820.5 1321.7 827.9 1321.8 834.8 1321.9 841.3 1321.9 847.3 1322 853 1322.1 858.3 1322.1 863.4 1322.2 868.1 1322.3 872.6M1324.9 871.1 1324.9 868.4 1325 865.9 1325.1 863.5 1325.2 861.3 1325.3 859.2 1325.4 857.3 1325.5 855.5 1325.6 853.8 1325.6 852.2 1325.7 850.8 1325.8 849.5 1325.9 848.2 1326 847.1 1326.1 846 1326.2 845 1326.3 844.1 1326.3 843.2 1326.4 842.4 1326.5 841.7 1326.6 841 1326.7 840.3 1326.8 839.7 1326.9 839.1 1326.9 838.6 1327 838 1327.1 837.6 1327.2 837.1 1327.3 836.6 1327.4 836.2 1327.5 835.8 1327.6 835.4 1327.6 835 1327.9 834.1 1328.1 833.3 1328.3 832.5 1328.5 831.8 1328.7 831.1 1329 830.4 1329.2 829.8 1329.4 829.2 1329.6 828.6 1329.8 828 1330.1 827.4 1330.3 826.9 1330.5 826.4 1330.7 825.9 1330.9 825.4 1331.2 824.9 1331.4 824.5 1331.6 824 1331.8 823.6 1332 823.2 1332.3 822.8 1332.5 822.4 1332.7 822 1332.9 821.7 1333.1 821.3 1333.4 821 1333.6 820.6 1333.8 820.3 1334 820 1334.2 819.7 1334.5 819.4 1334.7 819.2 1334.9 818.9 1335.1 818.7 1335.3 818.4 1335.6 818.2 1335.8 818 1336 817.7 1336.2 817.5 1336.4 817.3 1336.6 817.2 1336.9 817 1337.1 816.8 1337.3 816.6 1337.5 816.5 1337.7 816.3 1338 816.2 1338.2 816.1 1338.4 815.9 1338.6 815.8 1338.8 815.7 1339.1 815.6 1339.3 815.5 1339.5 815.4 1339.7 815.3 1339.9 815.2 1340.2 815.1 1340.4 815 1340.6 815 1340.8 814.9 1341 814.8 1341.3 814.8 1341.5 814.7 1341.7 814.7 1341.9 814.6 1342.1 814.6 1342.4 814.5 1342.6 814.5 1342.8 814.5 1343 814.4 1343.2 814.4 1343.5 814.4 1343.7 814.3 1343.9 814.3 1344.1 814.3 1344.3 814.3 1344.6 814.2 1344.8 814.2 1345 814.2M1320.8 822.5V871.8M1345.9 817.4 1345.9 825.4 1346 832.8 1346.1 839.7 1346.1 846.3 1346.2 852.4 1346.3 858.2 1346.3 863.6M1348.8 862.5 1348.9 859.9 1349 857.5 1349.1 855.3 1349.1 853.1 1349.2 851.1 1349.3 849.3 1349.4 847.5 1349.5 845.9 1349.6 844.3 1349.6 842.9 1349.7 841.5 1349.8 840.3 1349.9 839.1 1350 838 1350.1 837 1350.2 836.1 1350.2 835.2 1350.3 834.3 1350.4 833.5 1350.5 832.8 1350.6 832.1 1350.7 831.4 1350.7 830.8 1350.8 830.2 1350.9 829.6 1351 829.1 1351.1 828.6 1351.2 828.1 1351.3 827.7 1351.3 827.2 1351.4 826.8 1351.6 825.8 1351.8 824.9 1352.1 824 1352.3 823.2 1352.5 822.5 1352.7 821.8 1352.9 821.1 1353.1 820.5 1353.3 819.9 1353.6 819.3 1353.8 818.8 1354 818.2 1354.2 817.7 1354.4 817.2 1354.6 816.7 1354.8 816.2 1355.1 815.8 1355.3 815.4 1355.5 814.9 1355.7 814.5 1355.9 814.1 1356.1 813.7 1356.3 813.3 1356.5 813 1356.8 812.6 1357 812.3 1357.2 812 1357.4 811.6 1357.6 811.3 1357.8 811 1358 810.7 1358.3 810.5 1358.5 810.2 1358.7 809.9 1358.9 809.7 1359.1 809.5 1359.3 809.2 1359.5 809 1359.8 808.8 1360 808.6 1360.2 808.4 1360.4 808.2 1360.6 808 1360.8 807.9 1361 807.7 1361.2 807.6 1361.5 807.4 1361.7 807.3 1361.9 807.1 1362.1 807 1362.3 806.9 1362.5 806.8 1362.7 806.6 1363 806.5 1363.2 806.4 1363.4 806.4 1363.6 806.3 1363.8 806.2 1364 806.1 1364.2 806 1364.5 806 1364.7 805.9 1364.9 805.8 1365.1 805.8 1365.3 805.7 1365.5 805.7 1365.7 805.6 1365.9 805.6 1366.2 805.6 1366.4 805.5 1366.6 805.5 1366.8 805.5 1367 805.4 1367.2 805.4 1367.4 805.4 1367.7 805.4 1367.9 805.3 1368.1 805.3 1368.3 805.3M1345 814.2V863.9M1369.1 804.9 1369.2 813.9 1369.2 822.3 1369.3 830.2 1369.4 837.6 1369.4 844.6 1369.5 851.1M1371.9 854.2 1372 851.8 1372.1 849.5 1372.2 847.3 1372.2 845.2 1372.3 843.3 1372.4 841.4 1372.5 839.7 1372.6 838.1 1372.7 836.6 1372.7 835.1 1372.8 833.8 1372.9 832.5 1373 831.3 1373.1 830.2 1373.1 829.1 1373.2 828.2 1373.3 827.2 1373.4 826.3 1373.5 825.5 1373.5 824.7 1373.6 824 1373.7 823.3 1373.8 822.6 1373.9 822 1374 821.4 1374 820.8 1374.1 820.3 1374.2 819.8 1374.3 819.3 1374.4 818.8 1374.6 817.7 1374.8 816.7 1375 815.8 1375.2 814.9 1375.4 814.2 1375.6 813.4 1375.8 812.8 1376 812.1 1376.2 811.5 1376.4 810.9 1376.6 810.4 1376.8 809.8 1377 809.3 1377.2 808.8 1377.4 808.3 1377.6 807.8 1377.9 807.4 1378.1 806.9 1378.3 806.5 1378.5 806.1 1378.7 805.7 1378.9 805.3 1379.1 804.9 1379.3 804.6 1379.5 804.2 1379.7 803.9 1379.9 803.6 1380.1 803.2 1380.3 802.9 1380.5 802.6 1380.7 802.3 1380.9 802.1 1381.1 801.8 1381.3 801.5 1381.6 801.3 1381.8 801 1382 800.8 1382.2 800.6 1382.4 800.4 1382.6 800.1 1382.8 799.9 1383 799.8 1383.2 799.6 1383.4 799.4 1383.6 799.2 1383.8 799.1 1384 798.9 1384.2 798.8 1384.4 798.6 1384.6 798.5 1384.8 798.4 1385 798.2 1385.3 798.1 1385.5 798 1385.7 797.9 1385.9 797.8 1386.1 797.7 1386.3 797.6 1386.5 797.5 1386.7 797.5 1386.9 797.4 1387.1 797.3 1387.3 797.3 1387.5 797.2 1387.7 797.1 1387.9 797.1 1388.1 797 1388.3 797 1388.5 797 1388.7 796.9 1389 796.9 1389.2 796.9 1389.4 796.8 1389.6 796.8 1389.8 796.8 1390 796.8 1390.2 796.7 1390.4 796.7 1390.6 796.7M1368.3 805.3V855.6M1391.3 795.5 1391.4 804.6 1391.4 813.2 1391.5 821.3 1391.6 828.9 1391.6 836.1 1391.7 842.9M1393.9 847.5 1393.9 845 1394 842.7 1394.1 840.4 1394.2 838.3 1394.2 836.3 1394.3 834.3 1394.4 832.5 1394.5 830.8 1394.6 829.2 1394.6 827.6 1394.7 826.2 1394.8 824.8 1394.9 823.5 1394.9 822.2 1395 821.1 1395.1 820 1395.2 818.9 1395.2 818 1395.3 817 1395.4 816.2 1395.5 815.3 1395.6 814.5 1395.6 813.8 1395.7 813.1 1395.8 812.4 1395.9 811.8 1395.9 811.2 1396 810.6 1396.1 810 1396.2 809.5 1396.4 808.3 1396.6 807.2 1396.8 806.2 1397 805.3 1397.2 804.5 1397.4 803.7 1397.6 803 1397.8 802.4 1397.9 801.7 1398.1 801.1 1398.3 800.6 1398.5 800 1398.7 799.5 1398.9 799 1399.1 798.5 1399.3 798 1399.5 797.6 1399.7 797.1 1399.9 796.7 1400.1 796.3 1400.3 795.9 1400.5 795.5 1400.7 795.1 1400.9 794.8 1401.1 794.4 1401.3 794.1 1401.5 793.7 1401.7 793.4 1401.9 793.1 1402.1 792.8 1402.3 792.5 1402.5 792.2 1402.7 791.9 1402.9 791.6 1403.1 791.4 1403.3 791.1 1403.4 790.9 1403.6 790.7 1403.8 790.4 1404 790.2 1404.2 790 1404.4 789.8 1404.6 789.6 1404.8 789.4 1405 789.3 1405.2 789.1 1405.4 788.9 1405.6 788.8 1405.8 788.6 1406 788.5 1406.2 788.4 1406.4 788.2 1406.6 788.1 1406.8 788 1407 787.9 1407.2 787.8 1407.4 787.7 1407.6 787.6 1407.8 787.5 1408 787.4 1408.2 787.3 1408.4 787.3 1408.6 787.2 1408.8 787.1 1408.9 787.1 1409.1 787 1409.3 787 1409.5 786.9 1409.7 786.9 1409.9 786.8 1410.1 786.8 1410.3 786.8 1410.5 786.7 1410.7 786.7 1410.9 786.7 1411.1 786.6 1411.3 786.6 1411.5 786.6 1411.7 786.6M1390.6 796.7V847.6M1412.4 790.7 1412.5 799.6 1412.6 808.1 1412.6 816 1412.7 823.6 1412.7 830.8 1412.8 837.6M1414.8 840.4 1414.9 837.9 1415 835.5 1415.1 833.2 1415.1 831 1415.2 828.9 1415.3 826.9 1415.4 825 1415.4 823.2 1415.5 821.4 1415.6 819.8 1415.7 818.2 1415.7 816.7 1415.8 815.3 1415.9 814 1416 812.7 1416.1 811.5 1416.1 810.4 1416.2 809.3 1416.3 808.3 1416.4 807.3 1416.4 806.4 1416.5 805.6 1416.6 804.7 1416.7 804 1416.7 803.2 1416.8 802.5 1416.9 801.9 1417 801.2 1417 800.6 1417.1 800 1417.3 798.7 1417.5 797.5 1417.7 796.5 1417.9 795.5 1418.1 794.7 1418.3 793.9 1418.5 793.2 1418.7 792.5 1418.9 791.8 1419.1 791.2 1419.2 790.7 1419.4 790.1 1419.6 789.6 1419.8 789.1 1420 788.6 1420.2 788.1 1420.4 787.7 1420.6 787.2 1420.8 786.8 1421 786.4 1421.2 786 1421.4 785.6 1421.6 785.2 1421.8 784.9 1422 784.5 1422.1 784.2 1422.3 783.8 1422.5 783.5 1422.7 783.2 1422.9 782.9 1423.1 782.6 1423.3 782.3 1423.5 782 1423.7 781.7 1423.9 781.5 1424.1 781.2 1424.3 781 1424.5 780.7 1424.7 780.5 1424.9 780.3 1425.1 780.1 1425.2 779.9 1425.4 779.7 1425.6 779.5 1425.8 779.3 1426 779.1 1426.2 778.9 1426.4 778.8 1426.6 778.6 1426.8 778.5 1427 778.3 1427.2 778.2 1427.4 778.1 1427.6 778 1427.8 777.8 1428 777.7 1428.1 777.6 1428.3 777.5 1428.5 777.4 1428.7 777.3 1428.9 777.3 1429.1 777.2 1429.3 777.1 1429.5 777 1429.7 777 1429.9 776.9 1430.1 776.9 1430.3 776.8 1430.5 776.8 1430.7 776.7 1430.9 776.7 1431 776.6 1431.2 776.6 1431.4 776.6 1431.6 776.6 1431.8 776.5 1432 776.5 1432.2 776.5 1432.4 776.5M1411.7 786.6V839.6M1433.1 779.7 1433.2 788.8 1433.3 797.4 1433.3 805.6 1433.4 813.3 1433.4 820.6 1433.5 827.6M1435.5 830.8 1435.6 828.4 1435.6 826 1435.7 823.8 1435.8 821.6 1435.9 819.5 1435.9 817.5 1436 815.6 1436.1 813.8 1436.1 812.1 1436.2 810.4 1436.3 808.8 1436.3 807.3 1436.4 805.9 1436.5 804.5 1436.6 803.2 1436.6 802 1436.7 800.8 1436.8 799.7 1436.8 798.6 1436.9 797.6 1437 796.7 1437.1 795.8 1437.1 794.9 1437.2 794.1 1437.3 793.3 1437.3 792.6 1437.4 791.9 1437.5 791.3 1437.6 790.7 1437.7 789.2 1437.9 788 1438.1 786.8 1438.3 785.8 1438.5 784.9 1438.6 784.1 1438.8 783.4 1439 782.7 1439.2 782 1439.4 781.4 1439.5 780.9 1439.7 780.3 1439.9 779.8 1440.1 779.3 1440.3 778.8 1440.4 778.3 1440.6 777.9 1440.8 777.4 1441 777 1441.2 776.6 1441.3 776.2 1441.5 775.8 1441.7 775.4 1441.9 775.1 1442.1 774.7 1442.2 774.4 1442.4 774 1442.6 773.7 1442.8 773.4 1443 773.1 1443.1 772.8 1443.3 772.5 1443.5 772.2 1443.7 771.9 1443.9 771.6 1444 771.4 1444.2 771.1 1444.4 770.9 1444.6 770.7 1444.8 770.4 1445 770.2 1445.1 770 1445.3 769.8 1445.5 769.6 1445.7 769.4 1445.9 769.2 1446 769.1 1446.2 768.9 1446.4 768.7 1446.6 768.6 1446.8 768.4 1446.9 768.3 1447.1 768.2 1447.3 768 1447.5 767.9 1447.7 767.8 1447.8 767.7 1448 767.6 1448.2 767.5 1448.4 767.4 1448.6 767.3 1448.7 767.2 1448.9 767.1 1449.1 767.1 1449.3 767 1449.5 766.9 1449.6 766.9 1449.8 766.8 1450 766.8 1450.2 766.7 1450.4 766.7 1450.5 766.6 1450.7 766.6 1450.9 766.6 1451.1 766.6 1451.3 766.5 1451.4 766.5 1451.6 766.5 1451.8 766.5M1432.4 776.5V831.6M1452.6 771.1 1452.7 780.3 1452.7 788.9 1452.8 797.1 1452.8 804.8 1452.9 812.2 1452.9 819.1M1455 820.4 1455.1 818 1455.2 815.7 1455.3 813.4 1455.3 811.2 1455.4 809.1 1455.5 807 1455.5 805.1 1455.6 803.2 1455.7 801.4 1455.8 799.7 1455.8 798 1455.9 796.5 1456 795 1456 793.5 1456.1 792.2 1456.2 790.9 1456.2 789.7 1456.3 788.5 1456.4 787.4 1456.5 786.3 1456.5 785.4 1456.6 784.4 1456.7 783.5 1456.7 782.7 1456.8 781.9 1456.9 781.1 1456.9 780.4 1457 779.7 1457.2 778.2 1457.4 776.8 1457.6 775.6 1457.7 774.5 1457.9 773.5 1458.1 772.7 1458.3 771.9 1458.4 771.2 1458.6 770.5 1458.8 769.9 1459 769.3 1459.2 768.7 1459.3 768.2 1459.5 767.7 1459.7 767.2 1459.9 766.7 1460 766.3 1460.2 765.8 1460.4 765.4 1460.6 765 1460.8 764.6 1460.9 764.2 1461.1 763.8 1461.3 763.4 1461.5 763.1 1461.7 762.7 1461.8 762.4 1462 762 1462.2 761.7 1462.4 761.4 1462.5 761.1 1462.7 760.8 1462.9 760.5 1463.1 760.2 1463.3 759.9 1463.4 759.6 1463.6 759.4 1463.8 759.1 1464 758.9 1464.1 758.7 1464.3 758.4 1464.5 758.2 1464.7 758 1464.9 757.8 1465 757.6 1465.2 757.4 1465.4 757.2 1465.6 757 1465.8 756.9 1465.9 756.7 1466.1 756.5 1466.3 756.4 1466.5 756.3 1466.6 756.1 1466.8 756 1467 755.9 1467.2 755.7 1467.4 755.6 1467.5 755.5 1467.7 755.4 1467.9 755.3 1468.1 755.2 1468.2 755.2 1468.4 755.1 1468.6 755 1468.8 754.9 1469 754.9 1469.1 754.8 1469.3 754.8 1469.5 754.7 1469.7 754.7 1469.9 754.6 1470 754.6 1470.2 754.6 1470.4 754.6 1470.6 754.5 1470.7 754.5 1470.9 754.5 1471.1 754.5M1451.8 766.5V821.6M1471.8 761.8 1471.9 771.1 1471.9 779.9 1472 788.2 1472 796.2 1472.1 803.7 1472.1 810.9M1474.1 812.1 1474.1 809.6 1474.2 807.1 1474.3 804.8 1474.3 802.5 1474.4 800.2 1474.5 798.1 1474.5 796 1474.6 794 1474.7 792.1 1474.7 790.2 1474.8 788.5 1474.9 786.8 1474.9 785.2 1475 783.6 1475.1 782.1 1475.1 780.7 1475.2 779.4 1475.3 778.1 1475.3 776.9 1475.4 775.8 1475.5 774.7 1475.5 773.7 1475.6 772.7 1475.7 771.8 1475.7 770.9 1475.8 770.1 1475.9 769.3 1475.9 768.6 1476.1 766.9 1476.3 765.4 1476.4 764.1 1476.6 763 1476.8 762 1477 761.1 1477.1 760.3 1477.3 759.5 1477.5 758.8 1477.6 758.2 1477.8 757.6 1478 757.1 1478.1 756.5 1478.3 756 1478.5 755.5 1478.6 755 1478.8 754.6 1479 754.1 1479.2 753.7 1479.3 753.3 1479.5 752.9 1479.7 752.5 1479.8 752.1 1480 751.7 1480.2 751.3 1480.3 751 1480.5 750.6 1480.7 750.3 1480.8 750 1481 749.6 1481.2 749.3 1481.4 749 1481.5 748.7 1481.7 748.4 1481.9 748.1 1482 747.9 1482.2 747.6 1482.4 747.3 1482.5 747.1 1482.7 746.8 1482.9 746.6 1483 746.4 1483.2 746.2 1483.4 745.9 1483.6 745.7 1483.7 745.5 1483.9 745.4 1484.1 745.2 1484.2 745 1484.4 744.8 1484.6 744.7 1484.7 744.5 1484.9 744.3 1485.1 744.2 1485.2 744.1 1485.4 743.9 1485.6 743.8 1485.7 743.7 1485.9 743.6 1486.1 743.5 1486.3 743.4 1486.4 743.3 1486.6 743.2 1486.8 743.1 1486.9 743 1487.1 743 1487.3 742.9 1487.4 742.8 1487.6 742.8 1487.8 742.7 1487.9 742.7 1488.1 742.6 1488.3 742.6 1488.5 742.6 1488.6 742.6 1488.8 742.5 1489 742.5 1489.1 742.5 1489.3 742.5M1471.1 754.5V811.6M1490.1 744.5 1490.2 754.2 1490.2 763.4 1490.3 772 1490.3 780.2 1490.4 787.9 1490.4 795.2M1492.5 799.8 1492.6 797.2 1492.6 794.7 1492.7 792.3 1492.8 790 1492.8 787.7 1492.9 785.5 1493 783.3 1493 781.3 1493.1 779.3 1493.2 777.4 1493.2 775.5 1493.3 773.8 1493.3 772.1 1493.4 770.5 1493.5 769 1493.5 767.5 1493.6 766.1 1493.7 764.8 1493.7 763.6 1493.8 762.4 1493.9 761.2 1493.9 760.2 1494 759.2 1494.1 758.2 1494.1 757.3 1494.2 756.5 1494.3 755.7 1494.4 753.8 1494.6 752.2 1494.8 750.9 1494.9 749.7 1495.1 748.6 1495.3 747.6 1495.4 746.8 1495.6 746 1495.7 745.3 1495.9 744.7 1496.1 744.1 1496.2 743.5 1496.4 742.9 1496.6 742.4 1496.7 741.9 1496.9 741.5 1497.1 741 1497.2 740.5 1497.4 740.1 1497.6 739.7 1497.7 739.3 1497.9 738.9 1498.1 738.5 1498.2 738.1 1498.4 737.7 1498.6 737.3 1498.7 737 1498.9 736.6 1499 736.3 1499.2 736 1499.4 735.6 1499.5 735.3 1499.7 735 1499.9 734.7 1500 734.4 1500.2 734.1 1500.4 733.9 1500.5 733.6 1500.7 733.3 1500.9 733.1 1501 732.8 1501.2 732.6 1501.4 732.4 1501.5 732.1 1501.7 731.9 1501.9 731.7 1502 731.5 1502.2 731.3 1502.3 731.1 1502.5 731 1502.7 730.8 1502.8 730.6 1503 730.5 1503.2 730.3 1503.3 730.2 1503.5 730 1503.7 729.9 1503.8 729.8 1504 729.6 1504.2 729.5 1504.3 729.4 1504.5 729.3 1504.7 729.2 1504.8 729.1 1505 729.1 1505.2 729 1505.3 728.9 1505.5 728.8 1505.6 728.8 1505.8 728.7 1506 728.7 1506.1 728.6 1506.3 728.6 1506.5 728.6 1506.6 728.6 1506.8 728.5 1507 728.5 1507.1 728.5 1507.3 728.5M1489.3 742.5V800.6M1508 727.8 1508 737.9 1508.1 747.5 1508.1 756.6 1508.2 765.3 1508.2 773.6 1508.3 781.5 1508.3 789.1M1510.2 788.5 1510.2 785.9 1510.3 783.3 1510.3 780.8 1510.4 778.3 1510.5 775.9 1510.5 773.6 1510.6 771.3 1510.7 769.1 1510.7 767 1510.8 764.9 1510.8 763 1510.9 761.1 1511 759.3 1511 757.5 1511.1 755.9 1511.2 754.3 1511.2 752.8 1511.3 751.4 1511.4 750.1 1511.4 748.8 1511.5 747.6 1511.5 746.4 1511.6 745.3 1511.7 744.3 1511.7 743.3 1511.8 742.4 1511.9 741.6 1512 739.6 1512.2 737.9 1512.3 736.4 1512.5 735.1 1512.7 734 1512.8 733 1513 732.2 1513.1 731.4 1513.3 730.7 1513.5 730 1513.6 729.4 1513.8 728.8 1513.9 728.3 1514.1 727.7 1514.3 727.2 1514.4 726.8 1514.6 726.3 1514.7 725.9 1514.9 725.4 1515.1 725 1515.2 724.6 1515.4 724.2 1515.5 723.8 1515.7 723.4 1515.9 723 1516 722.6 1516.2 722.3 1516.3 721.9 1516.5 721.6 1516.7 721.2 1516.8 720.9 1517 720.6 1517.1 720.3 1517.3 720 1517.5 719.7 1517.6 719.4 1517.8 719.1 1517.9 718.8 1518.1 718.5 1518.3 718.3 1518.4 718 1518.6 717.8 1518.7 717.5 1518.9 717.3 1519.1 717.1 1519.2 716.9 1519.4 716.7 1519.5 716.5 1519.7 716.3 1519.9 716.1 1520 715.9 1520.2 715.7 1520.3 715.6 1520.5 715.4 1520.7 715.2 1520.8 715.1 1521 715 1521.1 714.8 1521.3 714.7 1521.5 714.6 1521.6 714.5 1521.8 714.4 1521.9 714.3 1522.1 714.2 1522.3 714.1 1522.4 714 1522.6 713.9 1522.7 713.9 1522.9 713.8 1523.1 713.7 1523.2 713.7 1523.4 713.6 1523.5 713.6 1523.7 713.6 1523.9 713.5 1524 713.5 1524.2 713.5 1524.3 713.5 1524.5 713.5M1507.3 728.5V789.6M1525.1 718.2 1525.2 728.6 1525.2 738.5 1525.2 748 1525.3 757.1 1525.3 765.9 1525.3 774.3M1527 775.6 1527.1 772.8 1527.2 770.1 1527.2 767.4 1527.3 764.8 1527.3 762.2 1527.4 759.7 1527.5 757.3 1527.5 754.9 1527.6 752.6 1527.7 750.4 1527.7 748.3 1527.8 746.2 1527.8 744.3 1527.9 742.4 1528 740.6 1528 738.9 1528.1 737.2 1528.2 735.7 1528.2 734.2 1528.3 732.8 1528.3 731.5 1528.4 730.2 1528.5 729.1 1528.5 727.9 1528.6 726.9 1528.7 725.9 1528.7 724.9 1528.9 722.8 1529 721 1529.2 719.4 1529.4 718 1529.5 716.8 1529.7 715.8 1529.8 714.8 1530 714 1530.1 713.3 1530.3 712.6 1530.5 712 1530.6 711.4 1530.8 710.8 1530.9 710.3 1531.1 709.8 1531.2 709.3 1531.4 708.8 1531.6 708.4 1531.7 707.9 1531.9 707.5 1532 707.1 1532.2 706.7 1532.4 706.2 1532.5 705.9 1532.7 705.5 1532.8 705.1 1533 704.7 1533.1 704.3 1533.3 704 1533.5 703.6 1533.6 703.3 1533.8 703 1533.9 702.6 1534.1 702.3 1534.2 702 1534.4 701.7 1534.6 701.4 1534.7 701.1 1534.9 700.8 1535 700.6 1535.2 700.3 1535.4 700 1535.5 699.8 1535.7 699.6 1535.8 699.3 1536 699.1 1536.1 698.9 1536.3 698.7 1536.5 698.4 1536.6 698.2 1536.8 698.1 1536.9 697.9 1537.1 697.7 1537.3 697.5 1537.4 697.4 1537.6 697.2 1537.7 697 1537.9 696.9 1538 696.8 1538.2 696.6 1538.4 696.5 1538.5 696.4 1538.7 696.3 1538.8 696.2 1539 696.1 1539.1 696 1539.3 695.9 1539.5 695.9 1539.6 695.8 1539.8 695.7 1539.9 695.7 1540.1 695.6 1540.3 695.6 1540.4 695.6 1540.6 695.5 1540.7 695.5 1540.9 695.5 1541 695.5 1541.2 695.5M1524.5 713.5V776.6M1541.9 697.5 1542 708.1 1542 718.2 1542.1 727.8 1542.1 737 1542.2 745.8 1542.2 754.1 1542.3 762M1543.7 763.2 1543.8 760.3 1543.8 757.4 1543.9 754.5 1543.9 751.7 1544 748.8 1544 746.1 1544.1 743.4 1544.2 740.8 1544.2 738.2 1544.3 735.8 1544.3 733.4 1544.4 731 1544.4 728.8 1544.5 726.7 1544.5 724.6 1544.6 722.6 1544.6 720.7 1544.7 718.9 1544.7 717.2 1544.8 715.6 1544.9 714.1 1544.9 712.6 1545 711.2 1545 709.9 1545.1 708.6 1545.1 707.5 1545.2 706.4 1545.2 705.3 1545.3 704.3 1545.4 702.1 1545.6 700.2 1545.7 698.5 1545.8 697.1 1546 695.8 1546.1 694.7 1546.2 693.8 1546.4 692.9 1546.5 692.1 1546.6 691.4 1546.8 690.7 1546.9 690.1 1547 689.5 1547.2 689 1547.3 688.5 1547.5 688 1547.6 687.5 1547.7 687 1547.9 686.5 1548 686.1 1548.1 685.6 1548.3 685.2 1548.4 684.8 1548.5 684.3 1548.7 683.9 1548.8 683.5 1548.9 683.1 1549.1 682.8 1549.2 682.4 1549.4 682 1549.5 681.7 1549.6 681.3 1549.8 681 1549.9 680.6 1550 680.3 1550.2 680 1550.3 679.7 1550.4 679.4 1550.6 679.1 1550.7 678.8 1550.8 678.5 1551 678.3 1551.1 678 1551.3 677.7 1551.4 677.5 1551.5 677.3 1551.7 677 1551.8 676.8 1551.9 676.6 1552.1 676.4 1552.2 676.2 1552.3 676 1552.5 675.8 1552.6 675.6 1552.7 675.4 1552.9 675.3 1553 675.1 1553.2 675 1553.3 674.8 1553.4 674.7 1553.6 674.6 1553.7 674.5 1553.8 674.3 1554 674.2 1554.1 674.1 1554.2 674 1554.4 674 1554.5 673.9 1554.6 673.8 1554.8 673.8 1554.9 673.7 1555.1 673.7 1555.2 673.6 1555.3 673.6 1555.5 673.5 1555.6 673.5 1555.7 673.5 1555.9 673.5 1556 673.5M1541.2 695.5V763.1M1556 673.5L1557.2 674.2 1557.4 681"/>
<path stroke-width="4.7" d="M289.6 1006.7V959.9L289.7 966.5 289.7 972.4 289.8 977.7 289.9 982.5 289.9 986.9 290 990.8 290.1 994.3 290.1 997.5 290.2 1000.5 290.3 1003.1 290.3 1005.5 290.4 1007.7M362.5 995.3V937.6L362.6 945.4 362.6 952.5 362.7 958.9 362.8 964.6 362.8 969.8 362.9 974.5 363 978.7 363 982.6 363.1 986.1 363.2 989.2 363.2 992.1 363.3 994.7 363.4 997.1M435.3 983.3V911.3L435.4 920.7 435.4 929.1 435.5 936.7 435.6 943.5 435.6 949.7 435.7 955.3 435.8 960.4 435.8 964.9 435.9 969.1 436 972.9 436 976.3 436.1 979.4 436.2 982.2 436.2 984.8M507.5 973.3V891.5L507.6 902 507.6 911.4 507.7 919.9 507.8 927.6 507.8 934.5 507.9 940.8 508 946.4 508 951.6 508.1 956.2 508.2 960.5 508.2 964.3 508.3 967.8 508.4 971 508.4 973.9M575.5 964.7V874.3L575.6 885.6 575.6 895.8 575.7 905 575.8 913.3 575.8 920.7 575.9 927.5 576 933.6 576 939.1 576.1 944.1 576.2 948.7 576.2 952.8 576.3 956.6 576.4 960 576.4 963.2 576.5 966M640.5 955.3V858.5L640.6 870.5 640.6 881.4 640.7 891.2 640.8 900 640.8 908 640.9 915.2 641 921.7 641 927.6 641.1 933 641.2 937.9 641.2 942.3 641.3 946.3 641.4 950 641.4 953.4 641.5 956.4M702 946.7V843.5L702.1 856.3 702.1 867.8 702.2 878.1 702.3 887.5 702.3 895.9 702.4 903.6 702.5 910.5 702.5 916.7 702.6 922.4 702.7 927.6 702.7 932.3 702.8 936.5 702.9 940.4 702.9 944 703 947.3M760 938.7V829.8L760.1 843.2 760.1 855.2 760.2 866.1 760.3 875.9 760.3 884.8 760.4 892.8 760.5 900 760.5 906.6 760.6 912.5 760.7 918 760.7 922.9 760.8 927.4 760.9 931.5 760.9 935.2 761 938.7M814.5 930.8V815.5L814.6 829.5 814.6 842.2 814.7 853.6 814.8 863.9 814.8 873.2 814.9 881.6 815 889.2 815 896.1 815.1 902.4 815.2 908.1 815.2 913.3 815.3 918.1 815.4 922.4 815.4 926.4 815.5 930M868.2 967.5 868.3 969.5 868.4 971.4 868.5 973.2 868.7 975 868.8 976.8 868.9 978.5 869.1 980.1 869.2 981.7 869.3 983.3 869.5 984.9 869.6 986.4 869.7 987.9 869.9 989.4 870 990.8 870.1 992.2 870.3 993.6 870.4 995 870.5 996.3 870.6 997.5 870.8 998.7 870.9 999.9 871 1000.9 871.2 1001.9 871.3 1002.6 871.5 1002.4 871.6 1002 871.8 1001.5 872 1000.9 872.1 1000.2 872.3 999.4 872.5 998.4 872.7 997.4 872.8 996.2 873 995 873.2 993.6 873.3 992.2 873.5 990.8 873.7 989.2 873.8 987.6 874 986 874.2 984.3 874.4 982.6 874.5 980.9 874.7 979.1 874.9 977.3 875 975.6 875.2 973.8 875.4 972 875.5 970.3 875.7 968.5 875.9 966.8"/>
<path stroke-width="4.4" d="M865.5 923.3V802.7L865.6 817.3 865.6 830.5 865.7 842.4 865.8 853.2 865.8 862.9 865.9 871.7 866 879.7 866 886.9 866.1 893.4 866.2 899.4 866.2 904.9 866.3 909.8 866.4 914.4 866.4 918.5 866.5 922.3M913.8 915.8V789.4L913.9 804.6 913.9 818.3 914 830.7 914.1 841.9 914.1 852 914.2 861.2 914.3 869.5 914.3 877.1 914.4 883.9 914.5 890.2 914.5 895.9 914.6 901.1 914.7 905.8 914.7 910.2 914.8 914.2M1003.9 945.8 1004 948 1004.1 950 1004.1 951.9 1004.2 953.8 1004.3 955.6 1004.4 957.4 1004.5 959.1 1004.6 960.8 1004.7 962.4 1004.8 964 1004.9 965.6 1005 967.1 1005 968.6 1005.1 970 1005.2 971.4 1005.3 972.8 1005.4 974.2 1005.5 975.5 1005.6 976.8 1005.7 978.1 1005.8 979.3 1005.9 980.5 1005.9 981.6 1006 982.7 1006.1 983.7 1006.2 984.6 1006.3 985.3 1006.4 984.9 1006.6 984.2 1006.7 983.3 1006.9 982.1 1007 980.7 1007.1 979.1 1007.3 977.3 1007.4 975.4 1007.6 973.3 1007.7 971 1007.9 968.7 1008 966.4 1008.1 964 1008.3 961.5 1008.4 959.1 1008.6 956.7 1008.7 954.3 1008.8 951.9 1009 949.6 1009.1 947.4"/>
<path stroke-width="4.3" d="M959.5 907.5V777.7L959.6 793.5 959.6 807.8 959.7 820.8 959.8 832.4 959.8 843 959.9 852.6 960 861.4 960 869.3 960.1 876.5 960.2 883.1 960.2 889.1 960.3 894.7 960.4 899.7 960.4 904.4 960.5 908.7M1043.9 938.8 1044 940.9 1044.1 943 1044.1 945 1044.2 947 1044.3 948.8 1044.4 950.6 1044.5 952.4 1044.6 954.1 1044.7 955.8 1044.8 957.4 1044.9 959 1045 960.6 1045 962.1 1045.1 963.6 1045.2 965.1 1045.3 966.5 1045.4 967.9 1045.5 969.3 1045.6 970.6 1045.7 971.9 1045.8 973.2 1045.9 974.4 1045.9 975.6 1046 976.7 1046.1 977.7 1046.2 978.6 1046.3 979.3 1046.4 978.9 1046.6 978.1 1046.7 977.1 1046.8 975.9 1047 974.4 1047.1 972.6 1047.2 970.7 1047.4 968.6 1047.5 966.4 1047.6 964 1047.8 961.6 1047.9 959.1 1048 956.5 1048.2 954 1048.3 951.4 1048.4 948.9 1048.6 946.4 1048.7 943.9 1048.8 941.5 1049 939.2M1081.8 933 1081.8 935 1081.9 937 1082 938.9 1082.1 940.7 1082.1 942.5 1082.2 944.2 1082.3 945.9 1082.4 947.5 1082.4 949.1 1082.5 950.6 1082.6 952.2 1082.6 953.6 1082.7 955.1 1082.8 956.5 1082.9 957.9 1082.9 959.3 1083 960.6 1083.1 961.9 1083.1 963.1 1083.2 964.4 1083.3 965.6 1083.4 966.7 1083.4 967.8 1083.5 968.9 1083.6 969.9 1083.7 970.9 1083.7 971.7 1083.8 972.4 1083.9 971.9 1084.1 971 1084.2 970 1084.3 968.6 1084.4 967 1084.6 965.2 1084.7 963.2 1084.8 961 1085 958.6 1085.1 956.1 1085.2 953.6 1085.3 950.9 1085.5 948.3 1085.6 945.6 1085.7 942.9 1085.8 940.2 1086 937.6 1086.1 935.1 1086.2 932.6"/>
<path stroke-width="4.2" d="M1001.7 900.4V764.9L1001.8 781.3 1001.8 796.1 1001.9 809.5 1002 821.7 1002 832.6 1002.1 842.6 1002.2 851.7 1002.2 859.9 1002.3 867.4 1002.4 874.2 1002.4 880.5 1002.5 886.2 1002.6 891.5 1002.6 896.3 1002.7 900.8M1041.7 892.5V752.7L1041.8 769.6 1041.8 784.8 1041.9 798.6 1042 811.1 1042 822.4 1042.1 832.6 1042.2 841.9 1042.2 850.4 1042.3 858.1 1042.4 865.1 1042.4 871.6 1042.5 877.5 1042.6 882.9 1042.6 887.9 1042.7 892.4M1117.7 924 1117.7 926.3 1117.8 928.5 1117.9 930.4 1117.9 932.2 1118 933.9 1118 935.6 1118.1 937.3 1118.2 938.9 1118.2 940.5 1118.3 942 1118.3 943.5 1118.4 945 1118.4 946.4 1118.5 947.8 1118.6 949.2 1118.6 950.5 1118.7 951.8 1118.7 953.1 1118.8 954.3 1118.9 955.6 1118.9 956.8 1119 957.9 1119 959.1 1119.1 960.2 1119.1 961.2 1119.2 962.2 1119.3 963.2 1119.3 964.2 1119.4 965 1119.4 965.8 1119.5 966.4 1119.6 966 1119.7 965.4 1119.9 964.6 1120 963.7 1120.1 962.5 1120.2 961.2 1120.3 959.7 1120.5 958 1120.6 956.2 1120.7 954.3 1120.8 952.2 1120.9 950.1 1121.1 947.8 1121.2 945.5 1121.3 943.2 1121.4 940.8 1121.6 938.4 1121.7 935.9 1121.8 933.5 1121.9 931.1 1122 928.7 1122.2 926.3 1122.3 924"/>
<path stroke-width="4.1" d="M1079.7 885.2V741.1L1079.8 758.5 1079.8 774.2 1079.9 788.5 1080 801.4 1080 813.1 1080.1 823.7 1080.2 833.4 1080.2 842.2 1080.3 850.2 1080.4 857.5 1080.4 864.3 1080.5 870.5 1080.6 876.1 1080.6 881.4 1080.7 886.2M1115.8 877.5V728.9L1115.9 747 1115.9 763.3 1116 778.1 1116.1 791.5 1116.1 803.7 1116.2 814.8 1116.3 824.9 1116.3 834.1 1116.4 842.5 1116.5 850.3 1116.5 857.3 1116.6 863.8 1116.7 869.8 1116.7 875.4M1151.6 918.3 1151.6 920.6 1151.7 922.9 1151.8 924.8 1151.8 926.5 1151.9 928.3 1151.9 929.9 1152 931.6 1152 933.2 1152.1 934.7 1152.1 936.2 1152.2 937.7 1152.3 939.2 1152.3 940.6 1152.4 942 1152.4 943.3 1152.5 944.7 1152.5 946 1152.6 947.2 1152.6 948.5 1152.7 949.7 1152.7 950.9 1152.8 952 1152.9 953.2 1152.9 954.2 1153 955.3 1153 956.3 1153.1 957.3 1153.1 958.2 1153.2 959.1 1153.2 959.9 1153.3 960.5 1153.4 960 1153.5 959.1 1153.6 958 1153.8 956.6 1153.9 955.1 1154 953.4 1154.1 951.6 1154.2 949.6 1154.3 947.5 1154.4 945.4 1154.5 943.2 1154.7 940.9 1154.8 938.5 1154.9 936.2 1155 933.8 1155.1 931.4 1155.2 928.9 1155.3 926.5 1155.5 924.1 1155.6 921.8 1155.7 919.5 1155.8 917.2"/>
<path stroke-width="4.0" d="M1149.7 870.2V716.9L1149.8 735.5 1149.8 752.3 1149.9 767.5 1150 781.3 1150 793.9 1150.1 805.3 1150.2 815.7 1150.2 825.2 1150.3 833.9 1150.4 841.9 1150.4 849.2 1150.5 855.9 1150.6 862.1 1150.6 867.8M1183.4 910.3 1183.5 913.1 1183.6 915.8 1183.6 918.3 1183.7 920.8 1183.7 922.4 1183.8 923.9 1183.8 925.4 1183.9 926.9 1183.9 928.4 1184 929.8 1184 931.2 1184.1 932.6 1184.1 933.9 1184.1 935.2 1184.2 936.5 1184.2 937.7 1184.3 939 1184.3 940.2 1184.4 941.3 1184.4 942.5 1184.5 943.6 1184.5 944.7 1184.6 945.8 1184.6 946.8 1184.6 947.9 1184.7 948.9 1184.7 949.8 1184.8 950.7 1184.8 951.6 1184.9 952.5 1184.9 953.2 1185 954 1185 954.5 1185.1 953.9 1185.2 952.8 1185.3 951.3 1185.4 949.5 1185.5 947.6 1185.7 945.5 1185.8 943.3 1185.9 941 1186 938.7 1186.1 936.3 1186.2 933.9 1186.3 931.5 1186.4 929 1186.5 926.5 1186.7 924.1 1186.8 921.6 1186.9 919.2 1187 916.8 1187.1 914.4 1187.2 912.1 1187.3 909.9"/>
<path stroke-width="3.9" d="M1181.7 862.5V705.2L1181.8 724.4 1181.8 741.8 1181.9 757.6 1182 771.9 1182 785 1182.1 796.8 1182.2 807.7 1182.2 817.6 1182.3 826.6 1182.4 835 1182.4 842.6 1182.5 849.6 1182.6 856.1 1182.6 862.2M1212.5 854.2V692.7L1212.6 712.6 1212.6 730.6 1212.7 747 1212.8 761.9 1212.8 775.4 1212.9 787.8 1213 799.1 1213 809.4 1213.1 818.9 1213.2 827.6 1213.2 835.7 1213.3 843.1 1213.4 849.9M1214.2 904.5 1214.2 907.6 1214.3 910.6 1214.4 913.4 1214.4 916.1 1214.5 918.8 1214.5 920.1 1214.6 921.4 1214.6 922.7 1214.6 923.9 1214.7 925.1 1214.7 926.3 1214.7 927.5 1214.8 928.7 1214.8 929.8 1214.8 930.9 1214.9 932 1214.9 933.1 1214.9 934.1 1215 935.2 1215 936.2 1215.1 937.2 1215.1 938.1 1215.1 939.1 1215.2 940 1215.2 940.9 1215.2 941.8 1215.3 942.6 1215.3 943.5 1215.3 944.3 1215.4 945 1215.4 945.8 1215.4 946.5 1215.5 947.1 1215.5 947.6 1215.6 946.9 1215.7 945.5 1215.8 943.7 1215.9 941.5 1216 939.2 1216.1 936.8 1216.2 934.3 1216.3 931.7 1216.4 929.1 1216.5 926.6 1216.7 924 1216.8 921.4 1216.9 918.9 1217 916.4 1217.1 913.9 1217.2 911.5 1217.3 909.1 1217.4 906.8 1217.5 904.5"/>
<path stroke-width="3.8" d="M1241.7 847V679.9L1241.8 700.5 1241.8 719.2 1241.9 736.2 1242 751.6 1242 765.7 1242.1 778.6 1242.2 790.3 1242.2 801.1 1242.3 811 1242.4 820.1 1242.4 828.5 1242.5 836.3 1242.6 843.4M1269.7 839.2V667.7L1269.8 689.1 1269.8 708.6 1269.9 726.4 1270 742.5 1270 757.3 1270.1 770.8 1270.2 783.2 1270.2 794.5 1270.3 805 1270.4 814.6 1270.4 823.5 1270.5 831.7 1270.6 839.4M1243.3 897.6 1243.4 901 1243.4 904.3 1243.5 907.5 1243.6 910.5 1243.6 913.4 1243.7 916.2 1243.7 917.3 1243.8 918.4 1243.8 919.5 1243.8 920.5 1243.8 921.6 1243.9 922.6 1243.9 923.6 1243.9 924.6 1243.9 925.6 1244 926.5 1244 927.5 1244 928.4 1244.1 929.3 1244.1 930.2 1244.1 931.1 1244.1 932 1244.2 932.8 1244.2 933.7 1244.2 934.5 1244.3 935.3 1244.3 936 1244.3 936.8 1244.3 937.5 1244.4 938.2 1244.4 938.9 1244.4 939.5 1244.4 940.1 1244.5 940.7 1244.5 941.1 1244.6 940.3 1244.7 938.7 1244.8 936.5 1244.9 933.9 1245 931.2 1245.1 928.4 1245.2 925.5 1245.3 922.7 1245.4 919.8 1245.5 917 1245.6 914.3 1245.7 911.6 1245.8 909 1245.9 906.4 1246 903.9 1246.1 901.4 1246.2 899.1 1246.3 896.8"/>
<path stroke-width="3.7" d="M1295.5 830.8V655.2L1295.6 676.7 1295.6 696.2 1295.7 713.9 1295.8 730 1295.8 744.7 1295.9 758.1 1296 770.4 1296 781.6 1296.1 791.9 1296.2 801.4 1296.2 810.2 1296.3 818.3 1296.4 825.8 1296.4 832.7M1271.2 889.5 1271.2 893.6 1271.3 897.5 1271.4 901.2 1271.4 904.8 1271.5 908.2 1271.6 911.4 1271.6 914.5 1271.7 917.4 1271.7 918.2 1271.7 918.9 1271.8 919.6 1271.8 920.3 1271.8 921 1271.8 921.7 1271.8 922.4 1271.8 923.1 1271.9 923.8 1271.9 924.4 1271.9 925.1 1271.9 925.7 1271.9 926.4 1271.9 927 1272 927.6 1272 928.2 1272 928.8 1272 929.4 1272 929.9 1272 930.5 1272.1 931 1272.1 931.6 1272.1 932.1 1272.1 932.6 1272.1 933 1272.1 933.5 1272.2 933.9 1272.2 934.3 1272.2 934.6 1272.3 933.7 1272.4 931.8 1272.5 929.2 1272.6 926.3 1272.7 923.1 1272.8 919.9 1272.9 916.6 1272.9 913.4 1273 910.3 1273.1 907.3 1273.2 904.3 1273.3 901.5 1273.4 898.7 1273.5 896.1 1273.6 893.5 1273.7 891.1 1273.8 888.7M1297.1 882.2 1297.2 885.8 1297.2 889.3 1297.3 892.6 1297.4 895.7 1297.4 898.7 1297.5 901.6 1297.5 902.8 1297.6 903.9 1297.6 905.1 1297.6 906.2 1297.6 907.3 1297.7 908.3 1297.7 909.4 1297.7 910.4 1297.7 911.5 1297.8 912.5 1297.8 913.5 1297.8 914.4 1297.9 915.4 1297.9 916.3 1297.9 917.2 1297.9 918.1 1298 919 1298 919.9 1298 920.7 1298.1 921.6 1298.1 922.4 1298.1 923.1 1298.1 923.9 1298.2 924.6 1298.2 925.3 1298.2 926 1298.2 926.6 1298.3 927.2 1298.3 927.6 1298.4 926.6 1298.5 924.4 1298.6 921.5 1298.7 918.1 1298.8 914.5 1298.8 910.8 1298.9 907.2 1299 903.7 1299.1 900.3 1299.2 897 1299.3 893.9 1299.4 890.9 1299.5 888 1299.6 885.3 1299.6 882.7 1299.7 880.3M1322.3 872.6 1322.3 876.9 1322.4 881 1322.5 884.9 1322.5 888.6 1322.6 892.1 1322.7 895.4 1322.7 898.7 1322.8 901.7 1322.8 902.5 1322.8 903.3 1322.9 904 1322.9 904.8 1322.9 905.5 1322.9 906.2 1322.9 906.9 1322.9 907.6 1323 908.3 1323 909 1323 909.7 1323 910.4 1323 911 1323 911.7 1323.1 912.3 1323.1 912.9 1323.1 913.5 1323.1 914.2 1323.1 914.7 1323.1 915.3 1323.2 915.9 1323.2 916.4 1323.2 917 1323.2 917.5 1323.2 918 1323.2 918.5 1323.3 918.9 1323.3 919.3 1323.3 919.6 1323.4 918.9 1323.5 917.8 1323.6 916.2 1323.6 914.3 1323.7 911.9 1323.8 909.3 1323.9 906.4 1324 903.3 1324.1 900.1 1324.2 896.7 1324.3 893.3 1324.3 889.9 1324.4 886.5 1324.5 883.2 1324.6 880 1324.7 876.9 1324.8 874M1346.4 868.8 1346.5 873.7 1346.5 878.3 1346.6 882.7 1346.7 886.9 1346.7 890.8 1346.8 894.6 1346.9 898.1 1346.9 901.4 1347 904.6 1347 904.9 1347 905.2 1347 905.5 1347 905.8 1347 906.1 1347 906.4 1347 906.7 1347.1 907 1347.1 907.3 1347.1 907.6 1347.1 907.8 1347.1 908.1 1347.1 908.4 1347.1 908.7 1347.1 908.9 1347.1 909.2 1347.1 909.5 1347.1 909.7 1347.1 910 1347.1 910.2 1347.1 910.5 1347.2 910.7 1347.2 911 1347.2 911.2 1347.2 911.4 1347.2 911.6 1347.2 911.8 1347.2 912 1347.2 912.1 1347.3 911.5 1347.4 910.4 1347.5 908.9 1347.5 907 1347.6 904.8 1347.7 902.3 1347.8 899.5 1347.9 896.5 1348 893.4 1348 890.2 1348.1 886.9 1348.2 883.6 1348.3 880.3 1348.4 877.1 1348.5 874 1348.6 870.9 1348.6 868 1348.7 865.2M1369.6 857.2 1369.6 863 1369.7 868.5 1369.8 873.7 1369.8 878.6 1369.9 883.2 1370 887.5 1370 891.6 1370.1 895.4 1370.2 898.9 1370.2 902.1 1370.3 904.6 1370.3 904.6 1370.3 904.6 1370.3 904.6 1370.3 904.6 1370.3 904.6 1370.3 904.6 1370.3 904.6 1370.3 904.6 1370.3 904.6 1370.3 904.6 1370.3 904.6 1370.3 904.6 1370.3 904.6 1370.3 904.6 1370.3 904.6 1370.3 904.6 1370.3 904.6 1370.3 904.6 1370.3 904.6 1370.3 904.6 1370.3 904.6 1370.3 904.6 1370.3 904.6 1370.3 904.6 1370.3 904.6 1370.3 904.6 1370.3 904.6 1370.3 904.6 1370.3 904.6 1370.4 904 1370.5 903 1370.5 901.5 1370.6 899.8 1370.7 897.7 1370.8 895.3 1370.9 892.6 1370.9 889.8 1371 886.8 1371.1 883.8 1371.2 880.6 1371.3 877.4 1371.4 874.3 1371.4 871.1 1371.5 868.1 1371.6 865.1 1371.7 862.2 1371.8 859.4 1371.8 856.7M1391.7 849.4 1391.8 855.6 1391.8 861.4 1391.9 866.9 1392 872.1 1392 877 1392.1 881.7 1392.1 886 1392.2 890 1392.2 893.7 1392.3 896.6 1392.3 896.6 1392.3 896.6 1392.3 896.6 1392.3 896.6 1392.3 896.6 1392.3 896.6 1392.3 896.6 1392.3 896.6 1392.3 896.6 1392.3 896.6 1392.3 896.6 1392.3 896.6 1392.3 896.6 1392.3 896.6 1392.3 896.6 1392.3 896.6 1392.3 896.6 1392.3 896.6 1392.3 896.6 1392.3 896.6 1392.3 896.6 1392.3 896.6 1392.3 896.6 1392.3 896.6 1392.3 896.6 1392.3 896.6 1392.3 896.6 1392.3 896.6 1392.3 896.6 1392.4 896 1392.5 895 1392.5 893.7 1392.6 892 1392.7 890 1392.8 887.7 1392.8 885.2 1392.9 882.5 1393 879.6 1393.1 876.7 1393.2 873.6 1393.2 870.5 1393.3 867.5 1393.4 864.4 1393.5 861.4 1393.5 858.4 1393.6 855.6 1393.7 852.8 1393.8 850.1M1412.8 844.1 1412.9 850.2 1412.9 856 1413 861.6 1413 866.8 1413.1 871.7 1413.1 876.3 1413.2 880.6 1413.2 884.5 1413.3 887.6 1413.3 887.6 1413.3 887.6 1413.3 887.6 1413.3 887.6 1413.3 887.6 1413.3 887.6 1413.3 887.6 1413.3 887.6 1413.3 887.6 1413.3 887.6 1413.3 887.6 1413.3 887.6 1413.3 887.6 1413.3 887.6 1413.3 887.6 1413.3 887.6 1413.3 887.6 1413.3 887.6 1413.3 887.6 1413.3 887.6 1413.3 887.6 1413.3 887.6 1413.3 887.6 1413.3 887.6 1413.3 887.6 1413.3 887.6 1413.3 887.6 1413.3 887.6 1413.3 887.6 1413.4 887.1 1413.5 886.1 1413.5 884.9 1413.6 883.3 1413.7 881.4 1413.8 879.2 1413.8 876.9 1413.9 874.3 1414 871.6 1414.1 868.8 1414.1 865.9 1414.2 862.9 1414.3 860 1414.4 857 1414.4 854.1 1414.5 851.2 1414.6 848.4 1414.7 845.6 1414.8 842.9 1414.8 840.4M1433.5 834.2 1433.6 840.4 1433.6 846.4 1433.7 852 1433.7 857.3 1433.8 862.4 1433.8 867.1 1433.9 871.4 1433.9 875.4 1434 878.6 1434 878.6 1434 878.6 1434 878.6 1434 878.6 1434 878.6 1434 878.6 1434 878.6 1434 878.6 1434 878.6 1434 878.6 1434 878.6 1434 878.6 1434 878.6 1434 878.6 1434 878.6 1434 878.6 1434 878.6 1434 878.6 1434 878.6 1434 878.6 1434 878.6 1434 878.6 1434 878.6 1434 878.6 1434 878.6 1434 878.6 1434 878.6 1434 878.6 1434 878.6 1434.1 878.1 1434.1 877.2 1434.2 876 1434.3 874.6 1434.4 872.8 1434.4 870.8 1434.5 868.6 1434.6 866.2 1434.6 863.6 1434.7 861 1434.8 858.2 1434.9 855.4 1434.9 852.5 1435 849.7 1435.1 846.8 1435.1 844 1435.2 841.3 1435.3 838.5 1435.4 835.9 1435.4 833.3M1453 825.7 1453 831.9 1453.1 837.8 1453.2 843.4 1453.2 848.7 1453.3 853.6 1453.3 858.3 1453.4 862.6 1453.4 866.5 1453.5 869.6 1453.5 869.6 1453.5 869.6 1453.5 869.6 1453.5 869.6 1453.5 869.6 1453.5 869.6 1453.5 869.6 1453.5 869.6 1453.5 869.6 1453.5 869.6 1453.5 869.6 1453.5 869.6 1453.5 869.6 1453.5 869.6 1453.5 869.6 1453.5 869.6 1453.5 869.6 1453.5 869.6 1453.5 869.6 1453.5 869.6 1453.5 869.6 1453.5 869.6 1453.5 869.6 1453.5 869.6 1453.5 869.6 1453.5 869.6 1453.5 869.6 1453.5 869.6 1453.5 869.6 1453.6 869.1 1453.6 868.3 1453.7 867.2 1453.8 865.8 1453.9 864.1 1453.9 862.2 1454 860.1 1454.1 857.9 1454.1 855.4 1454.2 852.9 1454.3 850.2 1454.3 847.5 1454.4 844.7 1454.5 841.9 1454.6 839.1 1454.6 836.3 1454.7 833.6 1454.8 830.8 1454.8 828.1 1454.9 825.5 1455 822.9M1472.2 817.7 1472.2 824.2 1472.3 830.4 1472.3 836.2 1472.4 841.7 1472.4 846.9 1472.5 851.7 1472.5 856 1472.6 859.6 1472.6 859.6 1472.6 859.6 1472.6 859.6 1472.6 859.6 1472.6 859.6 1472.6 859.6 1472.6 859.6 1472.6 859.6 1472.6 859.6 1472.6 859.6 1472.6 859.6 1472.6 859.6 1472.6 859.6 1472.6 859.6 1472.6 859.6 1472.6 859.6 1472.6 859.6 1472.6 859.6 1472.6 859.6 1472.6 859.6 1472.6 859.6 1472.6 859.6 1472.6 859.6 1472.6 859.6 1472.6 859.6 1472.6 859.6 1472.6 859.6 1472.6 859.6 1472.6 859.6 1472.7 859.2 1472.7 858.4 1472.8 857.4 1472.9 856.1 1472.9 854.5 1473 852.8 1473.1 850.8 1473.1 848.7 1473.2 846.4 1473.3 844 1473.3 841.5 1473.4 838.8 1473.5 836.2 1473.5 833.5 1473.6 830.7 1473.7 828 1473.7 825.3 1473.8 822.6 1473.9 819.9 1473.9 817.2 1474 814.6M1490.5 802.2 1490.5 808.8 1490.6 815 1490.7 820.9 1490.7 826.5 1490.8 831.7 1490.8 836.6 1490.9 841.2 1490.9 845.3 1491 848.6 1491 848.6 1491 848.6 1491 848.6 1491 848.6 1491 848.6 1491 848.6 1491 848.6 1491 848.6 1491 848.6 1491 848.6 1491 848.6 1491 848.6 1491 848.6 1491 848.6 1491 848.6 1491 848.6 1491 848.6 1491 848.6 1491 848.6 1491 848.6 1491 848.6 1491 848.6 1491 848.6 1491 848.6 1491 848.6 1491 848.6 1491 848.6 1491 848.6 1491 848.6 1491.1 848.2 1491.1 847.5 1491.2 846.5 1491.3 845.3 1491.3 843.9 1491.4 842.3 1491.5 840.4 1491.5 838.4 1491.6 836.3 1491.7 834 1491.7 831.6 1491.8 829.1 1491.8 826.5 1491.9 823.9 1492 821.2 1492 818.5 1492.1 815.8 1492.2 813.1 1492.2 810.4 1492.3 807.7 1492.4 805 1492.4 802.4M1508.4 796.2 1508.4 803 1508.5 809.5 1508.5 815.6 1508.6 821.4 1508.6 826.7 1508.7 831.6 1508.7 835.6 1508.7 835.6 1508.7 835.6 1508.7 835.6 1508.7 835.6 1508.7 835.6 1508.7 835.6 1508.7 835.6 1508.7 835.6 1508.7 835.6 1508.7 835.6 1508.7 835.6 1508.7 835.6 1508.7 835.6 1508.7 835.6 1508.7 835.6 1508.7 835.6 1508.7 835.6 1508.7 835.6 1508.7 835.6 1508.7 835.6 1508.7 835.6 1508.7 835.6 1508.7 835.6 1508.7 835.6 1508.7 835.6 1508.7 835.6 1508.7 835.6 1508.7 835.6 1508.7 835.6 1508.8 835.2 1508.8 834.6 1508.9 833.7 1509 832.6 1509 831.3 1509.1 829.9 1509.1 828.2 1509.2 826.3 1509.3 824.4 1509.3 822.2 1509.4 820 1509.5 817.6 1509.5 815.1 1509.6 812.6 1509.6 810 1509.7 807.4 1509.8 804.7 1509.8 802 1509.9 799.3 1510 796.5 1510 793.8 1510.1 791.1M1525.4 782.3 1525.4 790 1525.5 797.3 1525.5 804.2 1525.5 810.6 1525.6 816.6 1525.6 821.6 1525.6 821.6 1525.6 821.6 1525.6 821.6 1525.6 821.6 1525.6 821.6 1525.6 821.6 1525.6 821.6 1525.6 821.6 1525.6 821.6 1525.6 821.6 1525.6 821.6 1525.6 821.6 1525.6 821.6 1525.6 821.6 1525.6 821.6 1525.6 821.6 1525.6 821.6 1525.6 821.6 1525.6 821.6 1525.6 821.6 1525.6 821.6 1525.6 821.6 1525.6 821.6 1525.6 821.6 1525.6 821.6 1525.6 821.6 1525.6 821.6 1525.6 821.6 1525.6 821.6 1525.7 821.3 1525.7 820.7 1525.8 819.9 1525.8 818.9 1525.9 817.7 1526 816.4 1526 814.8 1526.1 813.1 1526.2 811.3 1526.2 809.3 1526.3 807.2 1526.3 804.9 1526.4 802.5 1526.5 800.1 1526.5 797.5 1526.6 794.9 1526.7 792.2 1526.7 789.5 1526.8 786.7 1526.8 783.9 1526.9 781.1 1527 778.3M1542.3 769.6 1542.4 776.7 1542.4 783.5 1542.5 789.8 1542.5 795.8 1542.6 801.1 1542.6 805.6 1542.6 805.6 1542.6 805.6 1542.6 805.6 1542.6 805.6 1542.6 805.6 1542.6 805.6 1542.6 805.6 1542.6 805.6 1542.6 805.6 1542.6 805.6 1542.6 805.6 1542.6 805.6 1542.6 805.6 1542.6 805.6 1542.6 805.6 1542.6 805.6 1542.6 805.6 1542.6 805.6 1542.6 805.6 1542.6 805.6 1542.6 805.6 1542.6 805.6 1542.6 805.6 1542.6 805.6 1542.6 805.6 1542.6 805.6 1542.6 805.6 1542.6 805.6 1542.6 805.6 1542.7 805.2 1542.7 804.6 1542.8 803.8 1542.8 802.8 1542.9 801.5 1542.9 800.1 1543 798.5 1543 796.7 1543.1 794.8 1543.1 792.7 1543.2 790.5 1543.2 788.1 1543.3 785.6 1543.4 783 1543.4 780.4 1543.5 777.6 1543.5 774.8 1543.6 771.9 1543.6 769 1543.7 766.1"/>
<path stroke-width="3.6" d="M1320.8 822.5V641.9L1320.9 664.2 1320.9 684.5 1321 702.9 1321.1 719.8 1321.1 735.1 1321.2 749.2 1321.3 762.1 1321.3 773.9 1321.4 784.7 1321.5 794.8 1321.5 804 1321.6 812.6 1321.7 820.5M1345 814.2V628.6L1345.1 652 1345.1 673.2 1345.2 692.6 1345.3 710.3 1345.3 726.5 1345.4 741.4 1345.5 755 1345.5 767.6 1345.6 779.1 1345.7 789.8 1345.7 799.7 1345.8 808.9"/>
<path stroke-width="3.5" d="M1368.3 805.3V616.1L1368.4 640.4 1368.4 662.6 1368.5 682.8 1368.6 701.3 1368.6 718.3 1368.7 733.8 1368.8 748.1 1368.8 761.3 1368.9 773.5 1369 784.7 1369 795.2 1369.1 804.9"/>
<path stroke-width="3.1" d="M1390.6 796.7V601.2L1390.7 623.5 1390.7 644.1 1390.8 663.2 1390.8 681 1390.9 697.5 1390.9 712.8 1391 727.1 1391.1 740.5 1391.1 753 1391.2 764.6 1391.2 775.6 1391.3 785.9 1391.3 795.5"/>
<path stroke-width="3.0" d="M1411.7 786.6V585.9L1411.8 607.8 1411.8 628.1 1411.9 647.1 1411.9 664.8 1412 681.3 1412 696.8 1412.1 711.3 1412.1 724.8 1412.2 737.5 1412.2 749.5 1412.3 760.7 1412.3 771.3 1412.4 781.3"/>
<path stroke-width="2.8" d="M1432.4 776.5V570.6L1432.5 592.9 1432.5 613.7 1432.6 633.1 1432.6 651.2 1432.7 668 1432.7 683.8 1432.8 698.6 1432.8 712.4 1432.9 725.4 1432.9 737.6 1433 749.1 1433 759.9 1433.1 770.1"/>
<path stroke-width="2.6" d="M1451.8 766.5V553.4L1451.9 577.3 1451.9 599.3 1452 619.8 1452 638.8 1452.1 656.5 1452.1 672.9 1452.2 688.2 1452.3 702.5 1452.3 715.9 1452.4 728.4 1452.4 740.1 1452.5 751.1 1452.5 761.4M1471.1 754.5V534.9L1471.1 557.5 1471.2 578.7 1471.2 598.5 1471.3 617.1 1471.3 634.5 1471.4 650.8 1471.4 666.2 1471.5 680.7 1471.5 694.4 1471.6 707.2 1471.6 719.4 1471.7 730.9 1471.8 741.7 1471.8 752M1489.3 742.5V514.5L1489.4 539.7 1489.4 563 1489.5 584.7 1489.5 604.7 1489.6 623.4 1489.6 640.8 1489.7 656.9 1489.8 672 1489.8 686.1 1489.9 699.4 1489.9 711.7 1490 723.3 1490 734.3M1507.3 728.5V489.4L1507.3 512.5 1507.4 534.3 1507.4 554.7 1507.5 574 1507.5 592.2 1507.6 609.4 1507.6 625.6 1507.7 640.9 1507.7 655.4 1507.8 669.1 1507.8 682.1 1507.9 694.4 1507.9 706.1 1508 717.3 1508 727.8M1524.5 713.5V457.4L1524.5 478.7 1524.6 499.1 1524.6 518.6 1524.6 537.1 1524.7 554.9 1524.7 571.9 1524.8 588.2 1524.8 603.8 1524.8 618.7 1524.9 633 1524.9 646.8 1524.9 659.9 1525 672.5 1525 684.7 1525 696.3 1525.1 707.5M1541.2 695.5V422.4L1541.2 448 1541.3 472.1 1541.3 494.7 1541.4 516.1 1541.4 536.2 1541.5 555.2 1541.5 573.1 1541.6 590.1 1541.6 606.1 1541.7 621.3 1541.7 635.7 1541.8 649.3 1541.8 662.3 1541.9 674.6 1541.9 686.3 1541.9 697.5"/>
<path stroke-width="4.9" d="M762.8 980.3 763 982.3 763.1 984.1 763.3 985.9 763.5 987.7 763.6 989.4 763.8 991.1 763.9 992.7 764.1 994.2 764.3 995.8 764.4 997.3 764.6 998.8 764.8 1000.2 764.9 1001.6 765.1 1003 765.2 1004.3 765.4 1005.6 765.6 1006.9 765.7 1008 765.9 1009.2 766.1 1010.3 766.2 1011.3 766.4 1012.2 766.5 1013 766.7 1013.5 766.9 1013.3 767.1 1013 767.3 1012.7 767.5 1012.2 767.7 1011.7 767.8 1011 768 1010.3 768.2 1009.5 768.4 1008.7 768.6 1007.8 768.8 1006.8 769 1005.8 769.2 1004.7 769.4 1003.5 769.6 1002.3 769.8 1001.1 770 999.8 770.1 998.5 770.3 997.1 770.5 995.8 770.7 994.4 770.9 993 771.1 991.6 771.3 990.2 771.5 988.7 771.7 987.3 771.9 985.9 772.1 984.5 772.2 983.1 772.4 981.8 772.6 980.4"/>
<path stroke-width="4.8" d="M817.2 973.3 817.3 975.2 817.5 977 817.6 978.8 817.7 980.6 817.9 982.3 818 983.9 818.2 985.5 818.3 987.1 818.4 988.7 818.6 990.2 818.7 991.7 818.8 993.2 819 994.6 819.1 996 819.3 997.4 819.4 998.8 819.5 1000.1 819.7 1001.3 819.8 1002.6 819.9 1003.7 820.1 1004.9 820.2 1005.9 820.4 1006.9 820.5 1007.6 820.7 1007.4 820.9 1007 821 1006.6 821.2 1006.1 821.4 1005.4 821.6 1004.7 821.8 1003.9 821.9 1003 822.1 1002 822.3 1000.9 822.5 999.8 822.7 998.6 822.8 997.3 823 996 823.2 994.6 823.4 993.2 823.6 991.7 823.7 990.2 823.9 988.7 824.1 987.1 824.3 985.5 824.5 984 824.6 982.4 824.8 980.8 825 979.3 825.2 977.7 825.4 976.1 825.5 974.6 825.7 973.1"/>
<path stroke-width="4.6" d="M916.3 959.2 916.4 961.3 916.5 963.3 916.6 965.2 916.7 967 916.9 968.8 917 970.5 917.1 972.2 917.2 973.9 917.3 975.5 917.4 977.1 917.6 978.6 917.7 980.1 917.8 981.6 917.9 983.1 918 984.5 918.1 985.9 918.3 987.3 918.4 988.6 918.5 989.9 918.6 991.1 918.7 992.3 918.8 993.4 919 994.5 919.1 995.5 919.2 996.2 919.4 995.9 919.5 995.4 919.7 994.7 919.8 993.7 920 992.5 920.2 991.1 920.3 989.6 920.5 987.9 920.7 986.1 920.8 984.2 921 982.1 921.1 980.1 921.3 978 921.5 975.8 921.6 973.7 921.8 971.5 921.9 969.4 922.1 967.3 922.3 965.2 922.4 963.2 922.6 961.3 922.7 959.4"/>
<path stroke-width="4.5" d="M961.8 954 961.9 956 962 958 962.1 959.8 962.2 961.6 962.2 963.3 962.3 965 962.4 966.7 962.5 968.3 962.6 969.8 962.7 971.3 962.8 972.8 962.9 974.3 963 975.7 963.1 977.1 963.2 978.5 963.3 979.8 963.4 981.1 963.5 982.4 963.5 983.7 963.6 984.9 963.7 986 963.8 987.1 963.9 988.2 964 989.2 964.1 990 964.2 990.7 964.4 990.4 964.5 989.8 964.7 989 964.8 987.9 965 986.6 965.1 985.2 965.2 983.5 965.4 981.7 965.6 979.7 965.7 977.7 965.9 975.5 966 973.3 966.2 971.1 966.3 968.8 966.5 966.5 966.6 964.2 966.8 962 966.9 959.8 967.1 957.6 967.2 955.5 967.4 953.5"/>
<path stroke-width="4.7" d="M289.6 959.9h0M289.6 962.4h0M289.6 964.9h0M289.7 967.4h0M289.6 969.9h0M289.7 972.4h0M289.6 974.9h0M289.8 977.4h0M289.6 979.9h0M289.9 982.4h0M289.6 984.9h0M289.9 987.4h0M289.6 989.9h0M290 992.4h0M289.6 994.9h0M290.1 997.4h0M289.6 998.9h0M290.2 1000.4h0M289.6 1001.9h0M290.3 1003.4h0M289.6 1004.9h0M290.4 1006.4h0M362.5 937.6h0M362.5 940.2h0M362.5 942.8h0M362.6 945.5h0M362.5 948.1h0M362.6 950.7h0M362.5 953.3h0M362.7 956h0M362.5 958.6h0M362.7 961.2h0M362.5 963.8h0M362.8 966.5h0M362.5 969.1h0M362.9 971.7h0M362.5 974.3h0M362.9 977h0M362.5 979.6h0M363 982.2h0M362.5 983.8h0M363.1 985.4h0M362.5 987h0M363.2 988.5h0M362.5 990.1h0M363.2 991.7h0M362.5 993.3h0M363.3 994.8h0M435.3 911.3h0M435.3 914h0M435.3 916.8h0M435.4 919.5h0M435.3 922.3h0M435.4 925h0M435.3 927.8h0M435.4 930.5h0M435.3 933.3h0M435.5 936h0M435.3 938.8h0M435.5 941.5h0M435.3 944.3h0M435.6 947h0M435.3 949.8h0M435.7 952.5h0M435.3 955.3h0M435.7 958h0M435.3 960.8h0M435.8 963.5h0M435.3 966.3h0M435.9 967.9h0M435.3 969.6h0M435.9 971.2h0M435.3 972.9h0M436 974.5h0M435.3 976.2h0M436.1 977.8h0M435.3 979.5h0M436.1 981.1h0M435.3 982.8h0M507.5 891.5h0M507.5 894.4h0M507.5 897.2h0M507.6 900.1h0M507.5 903h0M507.6 905.9h0M507.5 908.8h0M507.6 911.6h0M507.5 914.5h0M507.7 917.4h0M507.5 920.2h0M507.7 923.1h0M507.5 926h0M507.8 928.9h0M507.5 931.8h0M507.8 934.6h0M507.5 937.5h0M507.9 940.4h0M507.5 943.2h0M508 946.1h0M507.5 949h0M508 951.9h0M507.5 954.8h0M508.1 956.5h0M507.5 958.2h0M508.2 959.9h0M507.5 961.7h0M508.2 963.4h0M507.5 965.1h0M508.3 966.8h0M507.5 968.6h0M508.4 970.3h0M507.5 972h0M575.5 874.3h0M575.5 877.3h0M575.5 880.3h0M575.6 883.3h0M575.5 886.3h0M575.6 889.3h0M575.5 892.3h0M575.6 895.3h0M575.5 898.3h0M575.7 901.3h0M575.5 904.3h0M575.7 907.3h0M575.5 910.3h0M575.8 913.3h0M575.5 916.3h0M575.8 919.3h0M575.5 922.3h0M575.9 925.3h0M575.5 928.3h0M575.9 931.3h0M575.5 934.3h0M576 937.3h0M575.5 940.3h0M576.1 943.3h0M575.5 945.1h0M576.1 946.9h0M575.5 948.7h0M576.2 950.5h0M575.5 952.3h0M576.3 954.1h0M575.5 955.9h0M576.3 957.7h0M575.5 959.5h0M576.4 961.3h0M575.5 963.1h0M640.5 858.5h0M640.5 861.6h0M640.5 864.8h0M640.6 867.9h0M640.5 871h0M640.6 874.1h0M640.5 877.2h0M640.6 880.4h0M640.5 883.5h0M640.7 886.6h0M640.5 889.8h0M640.7 892.9h0M640.5 896h0M640.8 899.1h0M640.5 902.2h0M640.8 905.4h0M640.5 908.5h0M640.9 911.6h0M640.5 914.8h0M640.9 917.9h0M640.5 921h0M641 924.1h0M640.5 927.2h0M641.1 930.4h0M640.5 933.5h0M641.1 935.4h0M640.5 937.2h0M641.2 939.1h0M640.5 941h0M641.2 942.9h0M640.5 944.8h0M641.3 946.6h0M640.5 948.5h0M641.4 950.4h0M640.5 952.2h0M641.4 954.1h0M702 843.5h0M702 846.8h0M702 850h0M702.1 853.2h0M702 856.5h0M702.1 859.8h0M702 863h0M702.1 866.2h0M702 869.5h0M702.2 872.8h0M702 876h0M702.2 879.2h0M702 882.5h0M702.3 885.8h0M702 889h0M702.3 892.2h0M702 895.5h0M702.4 898.8h0M702 902h0M702.4 905.2h0M702 908.5h0M702.5 911.8h0M702 915h0M702.6 918.2h0M702 921.5h0M702.6 923.5h0M702 925.4h0M702.7 927.4h0M702 929.3h0M702.7 931.3h0M702 933.2h0M702.8 935.2h0M702 937.1h0M702.8 939.1h0M702 941h0M702.9 943h0M702 944.9h0M760 829.8h0M760 833.2h0M760 836.5h0M760 839.9h0M760 843.3h0M760.1 846.7h0M760 850h0M760.1 853.4h0M760 856.8h0M760.2 860.2h0M760 863.5h0M760.2 866.9h0M760 870.3h0M760.3 873.7h0M760 877h0M760.3 880.4h0M760 883.8h0M760.4 887.2h0M760 890.5h0M760.4 893.9h0M760 897.3h0M760.5 900.7h0M760 904h0M760.5 907.4h0M760 910.8h0M760.6 914.2h0M760 916.2h0M760.7 918.2h0M760 920.2h0M760.7 922.3h0M760 924.3h0M760.8 926.3h0M760 928.3h0M760.8 930.4h0M760 932.4h0M760.9 934.4h0M760 936.4h0M761 938.5h0M814.5 815.5h0M814.5 819h0M814.5 822.5h0M814.5 826h0M814.5 829.5h0M814.6 833h0M814.5 836.5h0M814.6 840h0M814.5 843.5h0M814.7 847h0M814.5 850.5h0M814.7 854h0M814.5 857.5h0M814.7 861h0M814.5 864.5h0M814.8 868h0M814.5 871.5h0M814.8 875h0M814.5 878.5h0M814.9 882h0M814.5 885.5h0M815 889h0M814.5 892.5h0M815 896h0M814.5 899.5h0M815.1 903h0M814.5 905.1h0M815.2 907.2h0M814.5 909.3h0M815.2 911.4h0M814.5 913.5h0M815.3 915.6h0M814.5 917.7h0M815.3 919.8h0M814.5 921.9h0M815.4 924h0M814.5 926.1h0M815.5 928.2h0M814.5 930.3h0M865.5 802.7h0M865.5 806.3h0M865.5 809.9h0M865.5 813.6h0M865.5 817.2h0M865.6 820.8h0M865.5 824.4h0M865.6 828.1h0M865.5 831.7h0M865.7 835.3h0M865.5 838.9h0M865.7 842.6h0M865.5 846.2h0M865.7 849.8h0M865.5 853.4h0M865.8 857.1h0M865.5 860.7h0M865.8 864.3h0M865.5 867.9h0M865.9 871.6h0M865.5 875.2h0M866 878.8h0M865.5 882.4h0M866 886.1h0M865.5 889.7h0M866.1 893.3h0M865.5 895.5h0M866.1 897.7h0M865.5 899.8h0M866.2 902h0M865.5 904.2h0M866.3 906.4h0M865.5 908.5h0M866.3 910.7h0M865.5 912.9h0M866.4 915.1h0M865.5 917.2h0M866.4 919.4h0M865.5 921.6h0M913.8 789.4h0M913.8 793.1h0M913.8 796.9h0M913.8 800.6h0M913.8 804.4h0M913.9 808.1h0M913.8 811.9h0M913.9 815.6h0M913.8 819.4h0M914 823.1h0M913.8 826.9h0M914 830.6h0M913.8 834.4h0M914 838.1h0M913.8 841.9h0M914.1 845.6h0M913.8 849.4h0M914.1 853.1h0M913.8 856.9h0M914.2 860.6h0M913.8 864.4h0M914.3 868.1h0M913.8 871.9h0M914.3 875.6h0M913.8 879.4h0M914.4 883.1h0M913.8 886.9h0M914.5 889.1h0M913.8 891.4h0M914.5 893.6h0M913.8 895.9h0M914.6 898.1h0M913.8 900.4h0M914.6 902.6h0M913.8 904.9h0M914.7 907.1h0M913.8 909.4h0M914.8 911.6h0M913.8 913.9h0M959.5 777.7h0M959.5 781.6h0M959.5 785.4h0M959.5 789.3h0M959.5 793.2h0M959.6 797.1h0M959.5 800.9h0M959.6 804.8h0M959.5 808.7h0M959.7 812.6h0M959.5 816.4h0M959.7 820.3h0M959.5 824.2h0M959.7 828.1h0M959.5 831.9h0M959.8 835.8h0M959.5 839.7h0M959.8 843.6h0M959.5 847.4h0M959.9 851.3h0M959.5 855.2h0M959.9 859.1h0M959.5 862.9h0M960 866.8h0M959.5 870.7h0M960.1 874.6h0M959.5 878.4h0M960.1 880.8h0M959.5 883.1h0M960.2 885.4h0M959.5 887.8h0M960.2 890.1h0M959.5 892.4h0M960.3 894.7h0M959.5 897.1h0M960.4 899.4h0M959.5 901.7h0M960.4 904h0M959.5 906.4h0M1001.7 764.9h0M1001.7 768.9h0M1001.7 772.9h0M1001.7 776.9h0M1001.7 780.9h0M1001.8 784.9h0M1001.7 788.9h0M1001.8 792.9h0M1001.7 796.9h0M1001.9 800.9h0M1001.7 804.9h0M1001.9 808.9h0M1001.7 812.9h0M1001.9 816.9h0M1001.7 820.9h0M1002 824.9h0M1001.7 828.9h0M1002 832.9h0M1001.7 836.9h0M1002.1 840.9h0M1001.7 844.9h0M1002.1 848.9h0M1001.7 852.9h0M1002.2 856.9h0M1001.7 860.9h0M1002.3 864.9h0M1001.7 868.9h0M1002.3 871.3h0M1001.7 873.7h0M1002.4 876.1h0M1001.7 878.5h0M1002.4 880.9h0M1001.7 883.3h0M1002.5 885.7h0M1001.7 888.1h0M1002.6 890.5h0M1001.7 892.9h0M1002.6 895.3h0M1001.7 897.7h0M1002.7 900.1h0M1041.7 752.7h0M1041.7 756.8h0M1041.7 760.9h0M1041.7 765.1h0M1041.7 769.2h0M1041.8 773.3h0M1041.7 777.4h0M1041.8 781.6h0M1041.7 785.7h0M1041.9 789.8h0M1041.7 793.9h0M1041.9 798.1h0M1041.7 802.2h0M1041.9 806.3h0M1041.7 810.4h0M1042 814.6h0M1041.7 818.7h0M1042 822.8h0M1041.7 826.9h0M1042.1 831.1h0M1041.7 835.2h0M1042.1 839.3h0M1041.7 843.4h0M1042.2 847.6h0M1041.7 851.7h0M1042.3 855.8h0M1041.7 859.9h0M1042.3 862.4h0M1041.7 864.9h0M1042.4 867.4h0M1041.7 869.9h0M1042.4 872.3h0M1041.7 874.8h0M1042.5 877.3h0M1041.7 879.8h0M1042.6 882.2h0M1041.7 884.7h0M1042.6 887.2h0M1041.7 889.7h0M1042.7 892.1h0M1079.7 741.1h0M1079.7 745.4h0M1079.7 749.6h0M1079.7 753.9h0M1079.7 758.1h0M1079.8 762.4h0M1079.7 766.6h0M1079.8 770.9h0M1079.7 775.1h0M1079.9 779.4h0M1079.7 783.6h0M1079.9 787.9h0M1079.7 792.1h0M1079.9 796.4h0M1079.7 800.6h0M1080 804.9h0M1079.7 809.1h0M1080 813.4h0M1079.7 817.6h0M1080.1 821.9h0M1079.7 826.1h0M1080.1 830.4h0M1079.7 834.6h0M1080.2 838.9h0M1079.7 843.1h0M1080.3 847.4h0M1079.7 851.6h0M1080.3 854.1h0M1079.7 856.7h0M1080.4 859.2h0M1079.7 861.8h0M1080.4 864.3h0M1079.7 866.9h0M1080.5 869.4h0M1079.7 872h0M1080.5 874.5h0M1079.7 877.1h0M1080.6 879.6h0M1079.7 882.2h0M1080.7 884.7h0M1115.8 728.9h0M1115.8 733.3h0M1115.8 737.6h0M1115.8 742h0M1115.8 746.4h0M1115.9 750.8h0M1115.8 755.1h0M1115.9 759.5h0M1115.8 763.9h0M1116 768.3h0M1115.8 772.6h0M1116 777h0M1115.8 781.4h0M1116 785.8h0M1115.8 790.1h0M1116.1 794.5h0M1115.8 798.9h0M1116.1 803.3h0M1115.8 807.6h0M1116.2 812h0M1115.8 816.4h0M1116.2 820.8h0M1115.8 825.1h0M1116.3 829.5h0M1115.8 833.9h0M1116.4 838.3h0M1115.8 842.6h0M1116.4 845.3h0M1115.8 847.9h0M1116.5 850.5h0M1115.8 853.1h0M1116.5 855.8h0M1115.8 858.4h0M1116.6 861h0M1115.8 863.6h0M1116.6 866.3h0M1115.8 868.9h0M1116.7 871.5h0M1115.8 874.1h0M1116.8 876.8h0M1149.7 716.9h0M1149.7 721.4h0M1149.7 725.9h0M1149.7 730.4h0M1149.7 734.9h0M1149.8 739.4h0M1149.7 743.9h0M1149.8 748.4h0M1149.7 752.9h0M1149.9 757.4h0M1149.7 761.9h0M1149.9 766.4h0M1149.7 770.9h0M1149.9 775.4h0M1149.7 779.9h0M1150 784.4h0M1149.7 788.9h0M1150 793.4h0M1149.7 797.9h0M1150.1 802.4h0M1149.7 806.9h0M1150.1 811.4h0M1149.7 815.9h0M1150.2 820.4h0M1149.7 824.9h0M1150.3 829.4h0M1149.7 833.9h0M1150.3 836.6h0M1149.7 839.3h0M1150.4 842h0M1149.7 844.7h0M1150.4 847.4h0M1149.7 850.1h0M1150.5 852.8h0M1149.7 855.5h0M1150.5 858.2h0M1149.7 860.9h0M1150.6 863.6h0M1149.7 866.3h0M1150.6 869h0M1181.7 705.2h0M1181.7 709.8h0M1181.7 714.4h0M1181.7 719.1h0M1181.7 723.7h0M1181.8 728.3h0M1181.7 732.9h0M1181.8 737.6h0M1181.7 742.2h0M1181.9 746.8h0M1181.7 751.4h0M1181.9 756.1h0M1181.7 760.7h0M1181.9 765.3h0M1181.7 769.9h0M1182 774.6h0M1181.7 779.2h0M1182 783.8h0M1181.7 788.4h0M1182.1 793.1h0M1181.7 797.7h0M1182.1 802.3h0M1181.7 806.9h0M1182.2 811.6h0M1181.7 816.2h0M1182.3 820.8h0M1181.7 825.4h0M1182.3 828.2h0M1181.7 831h0M1182.4 833.8h0M1181.7 836.5h0M1182.4 839.3h0M1181.7 842.1h0M1182.5 844.9h0M1181.7 847.6h0M1182.5 850.4h0M1181.7 853.2h0M1182.6 856h0M1181.7 858.7h0M1182.6 861.5h0M1212.5 692.7h0M1212.5 697.4h0M1212.5 702.2h0M1212.5 706.9h0M1212.5 711.7h0M1212.6 716.4h0M1212.5 721.2h0M1212.6 725.9h0M1212.5 730.7h0M1212.7 735.4h0M1212.5 740.2h0M1212.7 744.9h0M1212.5 749.7h0M1212.7 754.4h0M1212.5 759.2h0M1212.8 763.9h0M1212.5 768.7h0M1212.8 773.4h0M1212.5 778.2h0M1212.9 782.9h0M1212.5 787.7h0M1212.9 792.4h0M1212.5 797.2h0M1213 801.9h0M1212.5 806.7h0M1213 811.4h0M1212.5 816.2h0M1213.1 819h0M1212.5 821.9h0M1213.1 824.8h0M1212.5 827.6h0M1213.2 830.5h0M1212.5 833.3h0M1213.2 836.2h0M1212.5 839h0M1213.3 841.9h0M1212.5 844.7h0M1213.3 847.6h0M1212.5 850.4h0M1213.4 853.3h0M1241.7 679.9h0M1241.7 684.8h0M1241.7 689.6h0M1241.7 694.5h0M1241.7 699.4h0M1241.8 704.3h0M1241.7 709.1h0M1241.8 714h0M1241.7 718.9h0M1241.9 723.8h0M1241.7 728.6h0M1241.9 733.5h0M1241.7 738.4h0M1241.9 743.3h0M1241.7 748.1h0M1242 753h0M1241.7 757.9h0M1242 762.8h0M1241.7 767.6h0M1242.1 772.5h0M1241.7 777.4h0M1242.1 782.3h0M1241.7 787.1h0M1242.2 792h0M1241.7 796.9h0M1242.2 801.8h0M1241.7 806.6h0M1242.3 809.6h0M1241.7 812.5h0M1242.3 815.4h0M1241.7 818.3h0M1242.4 821.3h0M1241.7 824.2h0M1242.4 827.1h0M1241.7 830h0M1242.5 833h0M1241.7 835.9h0M1242.5 838.8h0M1241.7 841.7h0M1242.6 844.7h0M1269.7 667.7h0M1269.7 672.7h0M1269.7 677.7h0M1269.7 682.7h0M1269.7 687.7h0M1269.8 692.7h0M1269.7 697.7h0M1269.8 702.7h0M1269.7 707.7h0M1269.8 712.7h0M1269.7 717.7h0M1269.9 722.7h0M1269.7 727.7h0M1269.9 732.7h0M1269.7 737.7h0M1270 742.7h0M1269.7 747.7h0M1270 752.7h0M1269.7 757.7h0M1270.1 762.7h0M1269.7 767.7h0M1270.1 772.7h0M1269.7 777.7h0M1270.2 782.7h0M1269.7 787.7h0M1270.2 792.7h0M1269.7 797.7h0M1270.3 800.7h0M1269.7 803.7h0M1270.3 806.7h0M1269.7 809.7h0M1270.4 812.7h0M1269.7 815.7h0M1270.4 818.7h0M1269.7 821.7h0M1270.4 824.7h0M1269.7 827.7h0M1270.5 830.7h0M1269.7 833.7h0M1270.5 836.7h0M1295.5 655.2h0M1295.5 660.3h0M1295.5 665.4h0M1295.5 670.6h0M1295.5 675.7h0M1295.6 680.8h0M1295.5 685.9h0M1295.6 691.1h0M1295.5 696.2h0M1295.7 701.3h0M1295.5 706.4h0M1295.7 711.6h0M1295.5 716.7h0M1295.7 721.8h0M1295.5 726.9h0M1295.8 732.1h0M1295.5 737.2h0M1295.8 742.3h0M1295.5 747.4h0M1295.9 752.6h0M1295.5 757.7h0M1295.9 762.8h0M1295.5 767.9h0M1296 773.1h0M1295.5 778.2h0M1296 783.3h0M1295.5 788.4h0M1296.1 791.5h0M1295.5 794.6h0M1296.1 797.7h0M1295.5 800.8h0M1296.2 803.8h0M1295.5 806.9h0M1296.2 810h0M1295.5 813.1h0M1296.3 816.1h0M1295.5 819.2h0M1296.3 822.3h0M1295.5 825.4h0M1296.4 828.4h0M1320.8 641.9h0M1320.8 647.1h0M1320.8 652.4h0M1320.8 657.6h0M1320.8 662.9h0M1320.9 668.1h0M1320.8 673.4h0M1320.9 678.6h0M1320.8 683.9h0M1320.9 689.1h0M1320.8 694.4h0M1321 699.6h0M1320.8 704.9h0M1321 710.1h0M1320.8 715.4h0M1321.1 720.6h0M1320.8 725.9h0M1321.1 731.1h0M1320.8 736.4h0M1321.2 741.6h0M1320.8 746.9h0M1321.2 752.1h0M1320.8 757.4h0M1321.3 762.6h0M1320.8 767.9h0M1321.3 773.1h0M1320.8 778.4h0M1321.4 781.5h0M1320.8 784.7h0M1321.4 787.8h0M1320.8 791h0M1321.5 794.1h0M1320.8 797.3h0M1321.5 800.4h0M1320.8 803.6h0M1321.6 806.7h0M1320.8 809.9h0M1321.6 813h0M1320.8 816.2h0M1321.7 819.3h0M1320.8 822.5h0M1345 628.6h0M1345 634h0M1345 639.4h0M1345 644.7h0M1345 650.1h0M1345.1 655.5h0M1345 660.9h0M1345.1 666.2h0M1345 671.6h0M1345.1 677h0M1345 682.4h0M1345.2 687.7h0M1345 693.1h0M1345.2 698.5h0M1345 703.9h0M1345.3 709.2h0M1345 714.6h0M1345.3 720h0M1345 725.4h0M1345.4 730.7h0M1345 736.1h0M1345.4 741.5h0M1345 746.9h0M1345.5 752.2h0M1345 757.6h0M1345.5 763h0M1345 768.4h0M1345.6 771.6h0M1345 774.8h0M1345.6 778h0M1345 781.3h0M1345.6 784.5h0M1345 787.7h0M1345.7 790.9h0M1345 794.2h0M1345.7 797.4h0M1345 800.6h0M1345.8 803.8h0M1345 807.1h0M1345.8 810.3h0M1345 813.5h0M1368.3 616.1h0M1368.3 621.6h0M1368.3 627.1h0M1368.3 632.6h0M1368.3 638.1h0M1368.4 643.6h0M1368.3 649.1h0M1368.4 654.6h0M1368.3 660.1h0M1368.4 665.6h0M1368.3 671.1h0M1368.5 676.6h0M1368.3 682.1h0M1368.5 687.6h0M1368.3 693.1h0M1368.6 698.6h0M1368.3 704.1h0M1368.6 709.6h0M1368.3 715.1h0M1368.6 720.6h0M1368.3 726.1h0M1368.7 731.6h0M1368.3 737.1h0M1368.7 742.6h0M1368.3 748.1h0M1368.8 753.6h0M1368.3 759.1h0M1368.8 762.4h0M1368.3 765.7h0M1368.9 769h0M1368.3 772.3h0M1368.9 775.6h0M1368.3 778.9h0M1369 782.2h0M1368.3 785.5h0M1369 788.8h0M1368.3 792.1h0M1369 795.4h0M1368.3 798.7h0M1369.1 802h0M1368.3 805.3h0M1390.6 601.2h0M1390.6 608.4h0M1390.6 615.7h0M1390.7 622.9h0M1390.6 630.2h0M1390.7 637.4h0M1390.6 644.7h0M1390.7 651.9h0M1390.6 659.2h0M1390.8 666.4h0M1390.6 673.7h0M1390.8 680.9h0M1390.6 688.2h0M1390.9 695.4h0M1390.6 702.7h0M1390.9 709.9h0M1390.6 717.2h0M1391 724.4h0M1390.6 731.7h0M1391 738.9h0M1390.6 746.2h0M1391.1 753.4h0M1390.6 757.8h0M1391.2 762.1h0M1390.6 766.5h0M1391.2 770.9h0M1390.6 775.2h0M1391.2 779.6h0M1390.6 783.9h0M1391.3 788.3h0M1390.6 792.6h0M1411.7 585.9h0M1411.7 593.9h0M1411.7 601.9h0M1411.8 609.9h0M1411.7 617.9h0M1411.8 625.9h0M1411.7 633.9h0M1411.8 641.9h0M1411.7 649.9h0M1411.9 657.9h0M1411.7 665.9h0M1411.9 673.9h0M1411.7 681.9h0M1412 689.9h0M1411.7 697.9h0M1412.1 705.9h0M1411.7 713.9h0M1412.1 721.9h0M1411.7 729.9h0M1412.2 737.9h0M1411.7 742.7h0M1412.2 747.5h0M1411.7 752.3h0M1412.3 757.1h0M1411.7 761.9h0M1412.3 766.7h0M1411.7 771.5h0M1412.4 776.3h0M1411.7 781.1h0M1412.4 785.9h0M1432.4 570.6h0M1432.4 579.4h0M1432.4 588.1h0M1432.5 596.9h0M1432.4 605.6h0M1432.5 614.4h0M1432.4 623.1h0M1432.6 631.9h0M1432.4 640.6h0M1432.6 649.4h0M1432.4 658.1h0M1432.7 666.9h0M1432.4 675.6h0M1432.7 684.4h0M1432.4 693.1h0M1432.8 701.9h0M1432.4 710.6h0M1432.9 719.4h0M1432.4 728.1h0M1432.9 733.4h0M1432.4 738.6h0M1433 743.9h0M1432.4 749.1h0M1433 754.4h0M1432.4 759.6h0M1433.1 764.9h0M1432.4 770.1h0M1433.1 775.4h0M1451.8 553.4h0M1451.8 562.9h0M1451.8 572.4h0M1451.9 581.9h0M1451.8 591.4h0M1451.9 600.9h0M1451.8 610.4h0M1452 619.9h0M1451.8 629.4h0M1452 638.9h0M1451.8 648.4h0M1452.1 657.9h0M1451.8 667.4h0M1452.2 676.9h0M1451.8 686.4h0M1452.2 695.9h0M1451.8 705.4h0M1452.3 714.9h0M1451.8 720.6h0M1452.4 726.3h0M1451.8 732h0M1452.4 737.7h0M1451.8 743.4h0M1452.5 749.1h0M1451.8 754.8h0M1452.5 760.5h0M1451.8 766.2h0M1471.1 534.9h0M1471.1 544.4h0M1471.1 553.9h0M1471.2 563.4h0M1471.1 572.9h0M1471.2 582.4h0M1471.1 591.9h0M1471.3 601.4h0M1471.1 610.9h0M1471.3 620.4h0M1471.1 629.9h0M1471.4 639.4h0M1471.1 648.9h0M1471.4 658.4h0M1471.1 667.9h0M1471.5 677.4h0M1471.1 686.9h0M1471.6 696.4h0M1471.1 705.9h0M1471.6 711.6h0M1471.1 717.3h0M1471.7 723h0M1471.1 728.7h0M1471.7 734.4h0M1471.1 740.1h0M1471.8 745.8h0M1471.1 751.5h0M1489.3 514.5h0M1489.3 524h0M1489.3 533.5h0M1489.4 543h0M1489.3 552.5h0M1489.4 562h0M1489.3 571.5h0M1489.5 581h0M1489.3 590.5h0M1489.5 600h0M1489.3 609.5h0M1489.6 619h0M1489.3 628.5h0M1489.6 638h0M1489.3 647.5h0M1489.7 657h0M1489.3 666.5h0M1489.8 676h0M1489.3 685.5h0M1489.8 695h0M1489.3 700.7h0M1489.9 706.4h0M1489.3 712.1h0M1490 717.8h0M1489.3 723.5h0M1490 729.2h0M1489.3 734.9h0M1490.1 740.6h0M1507.3 489.4h0M1507.3 498.9h0M1507.3 508.4h0M1507.4 517.9h0M1507.3 527.4h0M1507.4 536.9h0M1507.3 546.4h0M1507.4 555.9h0M1507.3 565.4h0M1507.5 574.9h0M1507.3 584.4h0M1507.5 593.9h0M1507.3 603.4h0M1507.6 612.9h0M1507.3 622.4h0M1507.6 631.9h0M1507.3 641.4h0M1507.7 650.9h0M1507.3 660.4h0M1507.8 669.9h0M1507.3 675.6h0M1507.8 681.3h0M1507.3 687h0M1507.9 692.7h0M1507.3 698.4h0M1507.9 704.1h0M1507.3 709.8h0M1507.9 715.5h0M1507.3 721.2h0M1508 726.9h0M1524.5 457.4h0M1524.5 466.9h0M1524.5 476.4h0M1524.5 485.9h0M1524.5 495.4h0M1524.6 504.9h0M1524.5 514.4h0M1524.6 523.9h0M1524.5 533.4h0M1524.7 542.9h0M1524.5 552.4h0M1524.7 561.9h0M1524.5 571.4h0M1524.7 580.9h0M1524.5 590.4h0M1524.8 599.9h0M1524.5 609.4h0M1524.8 618.9h0M1524.5 628.4h0M1524.9 637.9h0M1524.5 647.4h0M1524.9 656.9h0M1524.5 662.6h0M1525 668.3h0M1524.5 674h0M1525 679.7h0M1524.5 685.4h0M1525 691.1h0M1524.5 696.8h0M1525.1 702.5h0M1524.5 708.2h0M1541.2 422.4h0M1541.2 431.9h0M1541.2 441.4h0M1541.3 450.9h0M1541.2 460.4h0M1541.3 469.9h0M1541.2 479.4h0M1541.3 488.9h0M1541.2 498.4h0M1541.4 507.9h0M1541.2 517.4h0M1541.4 526.9h0M1541.2 536.4h0M1541.5 545.9h0M1541.2 555.4h0M1541.5 564.9h0M1541.2 574.4h0M1541.6 583.9h0M1541.2 593.4h0M1541.6 602.9h0M1541.2 612.4h0M1541.7 621.9h0M1541.2 631.4h0M1541.7 637.1h0M1541.2 642.8h0M1541.8 648.5h0M1541.2 654.2h0M1541.8 659.9h0M1541.2 665.6h0M1541.8 671.3h0M1541.2 677h0M1541.9 682.7h0M1541.2 688.4h0M1541.9 694.1h0"/>
</g>
<g class="nl">
<text transform="translate(370 939.1) rotate(-40)">n=1</text>
<text transform="translate(442.8 912.8) rotate(-40)">n=2</text>
<text transform="translate(515 893) rotate(-40)">n=3</text>
<text transform="translate(583 875.8) rotate(-40)">n=4</text>
<text transform="translate(648 860) rotate(-40)">n=5</text>
<text transform="translate(709.5 845) rotate(-40)">n=6</text>
<text transform="translate(767.5 831.3) rotate(-40)">n=7</text>
<text transform="translate(822 817) rotate(-40)">n=8</text>
<text transform="translate(873 804.1) rotate(-40)">n=9</text>
<text transform="translate(921.3 790.8) rotate(-40)">n=10</text>
<text transform="translate(967 779.1) rotate(-40)">n=11</text>
<text transform="translate(1009.2 766.3) rotate(-40)">n=12</text>
<text transform="translate(1049.2 754.1) rotate(-40)">n=13</text>
<text transform="translate(1087.2 742.5) rotate(-40)">n=14</text>
<text transform="translate(1123.3 730.3) rotate(-40)">n=15</text>
<text transform="translate(1157.2 718.3) rotate(-40)">n=16</text>
<text transform="translate(1189.2 706.6) rotate(-40)">n=17</text>
<text transform="translate(1220 694.1) rotate(-40)">n=18</text>
<text transform="translate(1249.2 681.3) rotate(-40)">n=19</text>
<text transform="translate(1277.2 669.1) rotate(-40)">n=20</text>
<text transform="translate(1303 656.6) rotate(-40)">n=21</text>
<text transform="translate(1328.3 643.3) rotate(-40)">n=22</text>
<text transform="translate(1352.5 630) rotate(-40)">n=23</text>
<text transform="translate(1375.8 617.5) rotate(-40)">n=24</text>
<text transform="translate(1398.1 602.6) rotate(-40)">n=25</text>
<text transform="translate(1419.2 587.3) rotate(-40)">n=26</text>
<text transform="translate(1439.9 572) rotate(-40)">n=27</text>
<text transform="translate(1459.3 554.8) rotate(-40)">n=28</text>
<text transform="translate(1496.8 515.9) rotate(-40)">n=29</text>
<text transform="translate(1514.8 490.8) rotate(-40)">n=30</text>
<text transform="translate(1532 458.8) rotate(-40)">n=31</text>
<text transform="translate(1548.7 423.3) rotate(-40)">n=32</text>
</g>
<rect x="225.5" y="144.5" width="1395.0" height="924.0" fill="none" stroke="#000" stroke-width="1.35"/>
<g stroke="#000">
<line x1="235" x2="235" y1="1068.5" y2="1078.6" stroke-width="6"/>
<line x1="280" x2="280" y1="1068.5" y2="1078.6" stroke-width="6"/>
<line x1="326" x2="326" y1="1068.5" y2="1084.6" stroke-width="6"/>
<line x1="371" x2="371" y1="1068.5" y2="1078.6" stroke-width="6"/>
<line x1="417" x2="417" y1="1068.5" y2="1078.6" stroke-width="6"/>
<line x1="462" x2="462" y1="1068.5" y2="1078.6" stroke-width="6"/>
<line x1="508" x2="508" y1="1068.5" y2="1084.6" stroke-width="6"/>
<line x1="554" x2="554" y1="1068.5" y2="1078.6" stroke-width="6"/>
<line x1="599" x2="599" y1="1068.5" y2="1078.6" stroke-width="6"/>
<line x1="645" x2="645" y1="1068.5" y2="1078.6" stroke-width="6"/>
<line x1="690" x2="690" y1="1068.5" y2="1084.6" stroke-width="6"/>
<line x1="736" x2="736" y1="1068.5" y2="1078.6" stroke-width="6"/>
<line x1="781" x2="781" y1="1068.5" y2="1078.6" stroke-width="6"/>
<line x1="827" x2="827" y1="1068.5" y2="1078.6" stroke-width="6"/>
<line x1="872" x2="872" y1="1068.5" y2="1084.6" stroke-width="6"/>
<line x1="918" x2="918" y1="1068.5" y2="1078.6" stroke-width="6"/>
<line x1="964" x2="964" y1="1068.5" y2="1078.6" stroke-width="6"/>
<line x1="1009" x2="1009" y1="1068.5" y2="1078.6" stroke-width="6"/>
<line x1="1055" x2="1055" y1="1068.5" y2="1084.6" stroke-width="6"/>
<line x1="1100" x2="1100" y1="1068.5" y2="1078.6" stroke-width="6"/>
<line x1="1146" x2="1146" y1="1068.5" y2="1078.6" stroke-width="6"/>
<line x1="1191" x2="1191" y1="1068.5" y2="1078.6" stroke-width="6"/>
<line x1="1237" x2="1237" y1="1068.5" y2="1084.6" stroke-width="6"/>
<line x1="1282" x2="1282" y1="1068.5" y2="1078.6" stroke-width="6"/>
<line x1="1328" x2="1328" y1="1068.5" y2="1078.6" stroke-width="6"/>
<line x1="1373" x2="1373" y1="1068.5" y2="1078.6" stroke-width="6"/>
<line x1="1419" x2="1419" y1="1068.5" y2="1084.6" stroke-width="6"/>
<line x1="1465" x2="1465" y1="1068.5" y2="1078.6" stroke-width="6"/>
<line x1="1510" x2="1510" y1="1068.5" y2="1078.6" stroke-width="6"/>
<line x1="1556" x2="1556" y1="1068.5" y2="1078.6" stroke-width="6"/>
<line x1="1601" x2="1601" y1="1068.5" y2="1084.6" stroke-width="6"/>
<line x1="214.2" x2="225.5" y1="1052" y2="1052" stroke-width="6"/>
<line x1="214.2" x2="225.5" y1="1016" y2="1016" stroke-width="6"/>
<line x1="214.2" x2="225.5" y1="980" y2="980" stroke-width="6"/>
<line x1="214.2" x2="225.5" y1="944" y2="944" stroke-width="6"/>
<line x1="208.2" x2="225.5" y1="909" y2="909" stroke-width="6"/>
<line x1="214.2" x2="225.5" y1="873" y2="873" stroke-width="6"/>
<line x1="214.2" x2="225.5" y1="837" y2="837" stroke-width="6"/>
<line x1="214.2" x2="225.5" y1="801" y2="801" stroke-width="6"/>
<line x1="214.2" x2="225.5" y1="765" y2="765" stroke-width="6"/>
<line x1="208.2" x2="225.5" y1="729" y2="729" stroke-width="6"/>
<line x1="214.2" x2="225.5" y1="693" y2="693" stroke-width="6"/>
<line x1="214.2" x2="225.5" y1="657" y2="657" stroke-width="6"/>
<line x1="214.2" x2="225.5" y1="621" y2="621" stroke-width="6"/>
<line x1="214.2" x2="225.5" y1="586" y2="586" stroke-width="6"/>
<line x1="208.2" x2="225.5" y1="550" y2="550" stroke-width="6"/>
<line x1="214.2" x2="225.5" y1="514" y2="514" stroke-width="6"/>
<line x1="214.2" x2="225.5" y1="478" y2="478" stroke-width="6"/>
<line x1="214.2" x2="225.5" y1="442" y2="442" stroke-width="6"/>
<line x1="214.2" x2="225.5" y1="406" y2="406" stroke-width="6"/>
<line x1="208.2" x2="225.5" y1="370" y2="370" stroke-width="6"/>
<line x1="214.2" x2="225.5" y1="334" y2="334" stroke-width="6"/>
<line x1="214.2" x2="225.5" y1="298" y2="298" stroke-width="6"/>
<line x1="214.2" x2="225.5" y1="262" y2="262" stroke-width="6"/>
<line x1="214.2" x2="225.5" y1="227" y2="227" stroke-width="6"/>
<line x1="208.2" x2="225.5" y1="191" y2="191" stroke-width="6"/>
<line x1="214.2" x2="225.5" y1="155" y2="155" stroke-width="6"/>
</g>
<g class="tk">
<text x="326.8" y="1116.5" text-anchor="middle">383.4</text>
<text x="509" y="1116.5" text-anchor="middle">383.6</text>
<text x="691.2" y="1116.5" text-anchor="middle">383.8</text>
<text x="873.4" y="1116.5" text-anchor="middle">384.0</text>
<text x="1055.6" y="1116.5" text-anchor="middle">384.2</text>
<text x="1237.8" y="1116.5" text-anchor="middle">384.4</text>
<text x="1420" y="1116.5" text-anchor="middle">384.6</text>
<text x="1602.2" y="1116.5" text-anchor="middle">384.8</text>
<text x="203.8" y="923" text-anchor="end">100</text>
<text x="203.8" y="743.6" text-anchor="end">200</text>
<text x="203.8" y="564.1" text-anchor="end">300</text>
<text x="203.8" y="384.7" text-anchor="end">400</text>
<text x="203.8" y="205.2" text-anchor="end">500</text>
</g>
<text class="al" x="922.0" y="1160" text-anchor="middle">Age (Myr)</text>
<text class="al" transform="translate(118.6 606) rotate(-90)" text-anchor="middle">O1 period (days)</text>
<rect x="235.5" y="154.3" width="307" height="92" rx="3.5" ry="3.5" fill="#fff" fill-opacity="0.8" stroke="#ccc" stroke-opacity="0.8" stroke-width="1.4"/>
<line x1="243.3" x2="285.8" y1="170.8" y2="170.8" stroke="#000" stroke-width="2.1"/>
<circle cx="264.6" cy="170.8" r="2.1" fill="#000"/>
<circle cx="265.5" cy="216.4" r="6.8" fill="#ffff00" fill-opacity="0.2" stroke="#ffff00" stroke-opacity="0.2" stroke-width="1.4"/>
<g class="lg">
<text x="302" y="178.5">m2.50_z0.0020</text>
<text x="302" y="210">intersection w/ P,L,T,R</text>
<text x="302" y="233">STRICTLY defined</text>
</g>
</svg>
</body></html>
